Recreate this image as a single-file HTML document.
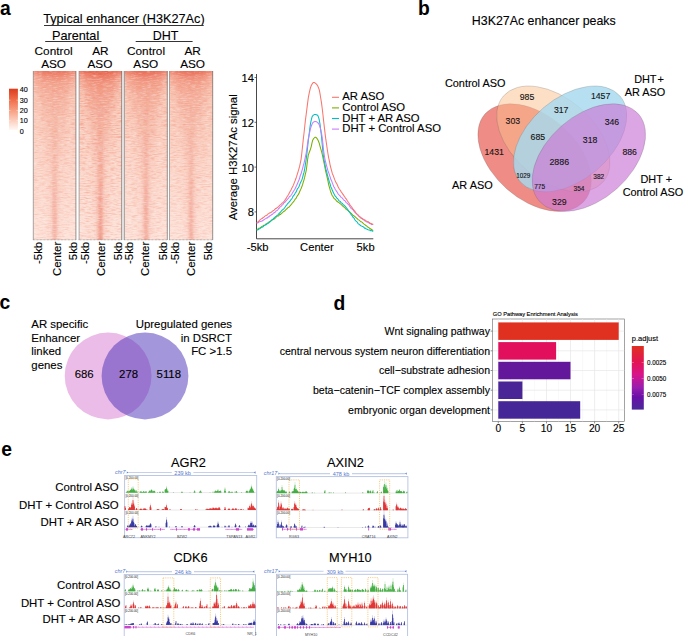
<!DOCTYPE html>
<html><head><meta charset="utf-8"><style>
html,body{margin:0;padding:0;background:#fff;}
svg{display:block;font-family:"Liberation Sans", sans-serif;}
</style></head><body>
<svg width="685" height="636" viewBox="0 0 685 636" font-family='"Liberation Sans", sans-serif'>
<style>text.k{stroke:#000;stroke-width:0.12px;}</style>
<rect width="685" height="636" fill="#fff"/>
<text x="0.00" y="15.00" font-size="19.3" text-anchor="start" font-weight="bold" fill="#000" >a</text>
<text class="k" x="123.90" y="23.40" font-size="12.7" text-anchor="middle" font-weight="normal" fill="#000" >Typical enhancer (H3K27Ac)</text>
<line x1="44" y1="25.5" x2="203.7" y2="25.5" stroke="#333" stroke-width="1"/>
<text class="k" x="75.60" y="40.00" font-size="12.7" text-anchor="middle" font-weight="normal" fill="#000" >Parental</text>
<line x1="45.2" y1="41.5" x2="101.5" y2="41.5" stroke="#333" stroke-width="1"/>
<text class="k" x="165.60" y="40.00" font-size="12.5" text-anchor="middle" font-weight="normal" fill="#000" >DHT</text>
<line x1="135.7" y1="41.5" x2="192.6" y2="41.5" stroke="#333" stroke-width="1"/>
<text class="k" x="53.60" y="54.50" font-size="11.8" text-anchor="middle" font-weight="normal" fill="#000" >Control</text>
<text class="k" x="53.60" y="68.30" font-size="11.8" text-anchor="middle" font-weight="normal" fill="#000" >ASO</text>
<text class="k" x="100.40" y="54.50" font-size="11.8" text-anchor="middle" font-weight="normal" fill="#000" >AR</text>
<text class="k" x="99.90" y="68.30" font-size="11.8" text-anchor="middle" font-weight="normal" fill="#000" >ASO</text>
<text class="k" x="146.00" y="54.50" font-size="11.8" text-anchor="middle" font-weight="normal" fill="#000" >Control</text>
<text class="k" x="145.80" y="68.30" font-size="11.8" text-anchor="middle" font-weight="normal" fill="#000" >ASO</text>
<text class="k" x="192.60" y="54.50" font-size="11.8" text-anchor="middle" font-weight="normal" fill="#000" >AR</text>
<text class="k" x="192.60" y="68.30" font-size="11.8" text-anchor="middle" font-weight="normal" fill="#000" >ASO</text>
<defs>
<linearGradient id="hmv" x1="0" y1="0" x2="0" y2="1">
<stop offset="0" stop-color="#f6b29e"/><stop offset="0.04" stop-color="#f8c0ad"/><stop offset="0.15" stop-color="#f9c9b8"/><stop offset="0.5" stop-color="#fbd5c8"/><stop offset="1" stop-color="#fde3da"/></linearGradient>
<linearGradient id="hmtop" x1="0" y1="0" x2="0" y2="1">
<stop offset="0" stop-color="#e23c26" stop-opacity="0.42"/><stop offset="0.25" stop-color="#e64a32" stop-opacity="0.14"/><stop offset="1" stop-color="#e8503a" stop-opacity="0"/></linearGradient>
<linearGradient id="vfade" x1="0" y1="0" x2="0" y2="1">
<stop offset="0" stop-color="#e4543a" stop-opacity="0.5"/><stop offset="0.3" stop-color="#e4543a" stop-opacity="0.22"/><stop offset="0.6" stop-color="#e4543a" stop-opacity="0.14"/><stop offset="1" stop-color="#e4543a" stop-opacity="0.2"/></linearGradient>
<linearGradient id="sfade" x1="0" y1="0" x2="0" y2="1">
<stop offset="0" stop-color="#e4543a" stop-opacity="0"/><stop offset="0.35" stop-color="#e4543a" stop-opacity="0.1"/><stop offset="1" stop-color="#e4543a" stop-opacity="0.6"/></linearGradient>
<linearGradient id="cbar" x1="0" y1="0" x2="0" y2="1">
<stop offset="0" stop-color="#dc3b1c"/><stop offset="0.25" stop-color="#ef6a46"/><stop offset="0.5" stop-color="#f79a7c"/><stop offset="0.75" stop-color="#fccab8"/><stop offset="1" stop-color="#fff8f5"/></linearGradient>
<linearGradient id="mgr" x1="0" y1="0" x2="0" y2="1"><stop offset="0" stop-color="#fff"/><stop offset="0.4" stop-color="#ddd"/><stop offset="1" stop-color="#999"/></linearGradient>
<mask id="nmask" maskUnits="userSpaceOnUse" x="0" y="0" width="50" height="169"><rect x="0" y="0" width="50" height="169" fill="url(#mgr)"/></mask>
<filter id="blur3" x="-50%" y="-10%" width="200%" height="120%"><feGaussianBlur stdDeviation="3.5 3"/></filter>
<filter id="blur1" x="-50%" y="-10%" width="200%" height="120%"><feGaussianBlur stdDeviation="1.4 2"/></filter>
<filter id="nz" x="0" y="0" width="100%" height="100%" filterUnits="objectBoundingBox">
<feTurbulence type="fractalNoise" baseFrequency="0.16 0.9" numOctaves="2" seed="4" result="t"/>
<feColorMatrix in="t" type="matrix" values="0 0 0 0 0.89  0 0 0 0 0.26  0 0 0 0 0.17  2.4 0 0 0 -1.05"/>
</filter>
<filter id="nzw" x="0" y="0" width="100%" height="100%" filterUnits="objectBoundingBox">
<feTurbulence type="fractalNoise" baseFrequency="0.2 0.95" numOctaves="2" seed="11" result="t"/>
<feColorMatrix in="t" type="matrix" values="0 0 0 0 1  0 0 0 0 1  0 0 0 0 1  2.4 0 0 0 -1.15"/>
</filter>
</defs>
<svg x="33" y="71" width="43.2" height="169" overflow="hidden">
<rect x="0" y="0" width="43.2" height="169" fill="url(#hmv)"/>
<path d="M2.6000000000000014,-6 L40.6,-6 L33.6,40 L27.6,90 L25.6,175 L17.6,175 L15.600000000000001,90 L9.600000000000001,40 Z" fill="url(#vfade)" opacity="0.53" filter="url(#blur3)"/>
<path d="M19.1,-6 L24.1,-6 L23.200000000000003,175 L20.0,175 Z" fill="url(#sfade)" opacity="0.59" filter="url(#blur1)"/>
<rect x="0" y="0" width="43.2" height="22" fill="url(#hmtop)" opacity="0.72"/>
<ellipse cx="21.6" cy="2" rx="14" ry="6" fill="#e03a22" opacity="0.17" filter="url(#blur3)"/>
<g mask="url(#nmask)"><g transform="translate(0,0)"><rect x="0" y="0" width="43.2" height="169" filter="url(#nz)" opacity="0.42"/></g></g>
<g transform="translate(0,0)"><rect x="0" y="0" width="43.2" height="169" filter="url(#nzw)" opacity="0.35"/></g>
</svg>
<line x1="33.3" y1="71" x2="33.3" y2="240" stroke="#8a8a8a" stroke-width="0.7"/>
<line x1="75.9" y1="71" x2="75.9" y2="240" stroke="#6a6a6a" stroke-width="0.7"/>
<line x1="33" y1="239.8" x2="76.2" y2="239.8" stroke="#888" stroke-width="0.8" stroke-dasharray="0.7,0.7"/>
<svg x="78.8" y="71" width="43.2" height="169" overflow="hidden">
<rect x="0" y="0" width="43.2" height="169" fill="url(#hmv)"/>
<path d="M2.6000000000000014,-6 L40.6,-6 L33.6,40 L27.6,90 L25.6,175 L17.6,175 L15.600000000000001,90 L9.600000000000001,40 Z" fill="url(#vfade)" opacity="0.81" filter="url(#blur3)"/>
<path d="M19.1,-6 L24.1,-6 L23.200000000000003,175 L20.0,175 Z" fill="url(#sfade)" opacity="0.91" filter="url(#blur1)"/>
<rect x="0" y="0" width="43.2" height="22" fill="url(#hmtop)" opacity="1.00"/>
<ellipse cx="21.6" cy="2" rx="14" ry="6" fill="#e03a22" opacity="0.26" filter="url(#blur3)"/>
<g mask="url(#nmask)"><g transform="translate(-37,0)"><rect x="37" y="0" width="43.2" height="169" filter="url(#nz)" opacity="0.65"/></g></g>
<g transform="translate(-41,0)"><rect x="41" y="0" width="43.2" height="169" filter="url(#nzw)" opacity="0.35"/></g>
</svg>
<line x1="79.1" y1="71" x2="79.1" y2="240" stroke="#8a8a8a" stroke-width="0.7"/>
<line x1="121.7" y1="71" x2="121.7" y2="240" stroke="#6a6a6a" stroke-width="0.7"/>
<line x1="78.8" y1="239.8" x2="122" y2="239.8" stroke="#888" stroke-width="0.8" stroke-dasharray="0.7,0.7"/>
<svg x="124.2" y="71" width="43.4" height="169" overflow="hidden">
<rect x="0" y="0" width="43.4" height="169" fill="url(#hmv)"/>
<path d="M2.6999999999999957,-6 L40.699999999999996,-6 L33.699999999999996,40 L27.699999999999996,90 L25.699999999999996,175 L17.699999999999996,175 L15.699999999999996,90 L9.699999999999996,40 Z" fill="url(#vfade)" opacity="0.62" filter="url(#blur3)"/>
<path d="M19.199999999999996,-6 L24.199999999999996,-6 L23.299999999999997,175 L20.099999999999994,175 Z" fill="url(#sfade)" opacity="0.70" filter="url(#blur1)"/>
<rect x="0" y="0" width="43.4" height="22" fill="url(#hmtop)" opacity="0.85"/>
<ellipse cx="21.699999999999996" cy="2" rx="14" ry="6" fill="#e03a22" opacity="0.20" filter="url(#blur3)"/>
<g mask="url(#nmask)"><g transform="translate(-74,0)"><rect x="74" y="0" width="43.4" height="169" filter="url(#nz)" opacity="0.50"/></g></g>
<g transform="translate(-82,0)"><rect x="82" y="0" width="43.4" height="169" filter="url(#nzw)" opacity="0.35"/></g>
</svg>
<line x1="124.5" y1="71" x2="124.5" y2="240" stroke="#8a8a8a" stroke-width="0.7"/>
<line x1="167.3" y1="71" x2="167.3" y2="240" stroke="#6a6a6a" stroke-width="0.7"/>
<line x1="124.2" y1="239.8" x2="167.6" y2="239.8" stroke="#888" stroke-width="0.8" stroke-dasharray="0.7,0.7"/>
<svg x="169.2" y="71" width="43.8" height="169" overflow="hidden">
<rect x="0" y="0" width="43.8" height="169" fill="url(#hmv)"/>
<path d="M2.9000000000000057,-6 L40.900000000000006,-6 L33.900000000000006,40 L27.900000000000006,90 L25.900000000000006,175 L17.900000000000006,175 L15.900000000000006,90 L9.900000000000006,40 Z" fill="url(#vfade)" opacity="0.56" filter="url(#blur3)"/>
<path d="M19.400000000000006,-6 L24.400000000000006,-6 L23.500000000000007,175 L20.300000000000004,175 Z" fill="url(#sfade)" opacity="0.63" filter="url(#blur1)"/>
<rect x="0" y="0" width="43.8" height="22" fill="url(#hmtop)" opacity="0.77"/>
<ellipse cx="21.900000000000006" cy="2" rx="14" ry="6" fill="#e03a22" opacity="0.18" filter="url(#blur3)"/>
<g mask="url(#nmask)"><g transform="translate(-111,0)"><rect x="111" y="0" width="43.8" height="169" filter="url(#nz)" opacity="0.45"/></g></g>
<g transform="translate(-123,0)"><rect x="123" y="0" width="43.8" height="169" filter="url(#nzw)" opacity="0.35"/></g>
</svg>
<line x1="169.5" y1="71" x2="169.5" y2="240" stroke="#8a8a8a" stroke-width="0.7"/>
<line x1="212.7" y1="71" x2="212.7" y2="240" stroke="#6a6a6a" stroke-width="0.7"/>
<line x1="169.2" y1="239.8" x2="213" y2="239.8" stroke="#888" stroke-width="0.8" stroke-dasharray="0.7,0.7"/>
<rect x="122.4" y="71" width="1.4" height="169" fill="#d8d8d8"/>
<rect x="9" y="88.7" width="8.9" height="41.3" fill="url(#cbar)"/>
<text class="k" x="19.70" y="92.40" font-size="7.2" text-anchor="start" font-weight="normal" fill="#000" >40</text>
<text class="k" x="19.70" y="102.68" font-size="7.2" text-anchor="start" font-weight="normal" fill="#000" >30</text>
<line x1="9" y1="100.2" x2="10.5" y2="100.2" stroke="#fff" stroke-width="0.4"/><line x1="16.4" y1="100.2" x2="17.9" y2="100.2" stroke="#fff" stroke-width="0.4"/>
<text class="k" x="19.70" y="112.96" font-size="7.2" text-anchor="start" font-weight="normal" fill="#000" >20</text>
<line x1="9" y1="110.5" x2="10.5" y2="110.5" stroke="#fff" stroke-width="0.4"/><line x1="16.4" y1="110.5" x2="17.9" y2="110.5" stroke="#fff" stroke-width="0.4"/>
<text class="k" x="19.70" y="123.24" font-size="7.2" text-anchor="start" font-weight="normal" fill="#000" >10</text>
<line x1="9" y1="120.7" x2="10.5" y2="120.7" stroke="#fff" stroke-width="0.4"/><line x1="16.4" y1="120.7" x2="17.9" y2="120.7" stroke="#fff" stroke-width="0.4"/>
<text class="k" x="19.70" y="133.52" font-size="7.2" text-anchor="start" font-weight="normal" fill="#000" >0</text>
<text class="k" transform="translate(41.7,241.8) rotate(-90)" font-size="11.4" text-anchor="end">-5kb</text>
<text class="k" transform="translate(61.2,241.8) rotate(-90)" font-size="11.4" text-anchor="end">Center</text>
<text class="k" transform="translate(77.3,241.8) rotate(-90)" font-size="11.4" text-anchor="end">5kb</text>
<text class="k" transform="translate(88.7,241.8) rotate(-90)" font-size="11.4" text-anchor="end">-5kb</text>
<text class="k" transform="translate(104.8,241.8) rotate(-90)" font-size="11.4" text-anchor="end">Center</text>
<text class="k" transform="translate(121.6,241.8) rotate(-90)" font-size="11.4" text-anchor="end">5kb</text>
<text class="k" transform="translate(133.4,241.8) rotate(-90)" font-size="11.4" text-anchor="end">-5kb</text>
<text class="k" transform="translate(149.2,241.8) rotate(-90)" font-size="11.4" text-anchor="end">Center</text>
<text class="k" transform="translate(167.0,241.8) rotate(-90)" font-size="11.4" text-anchor="end">5kb</text>
<text class="k" transform="translate(178.7,241.8) rotate(-90)" font-size="11.4" text-anchor="end">-5kb</text>
<text class="k" transform="translate(194.5,241.8) rotate(-90)" font-size="11.4" text-anchor="end">Center</text>
<text class="k" transform="translate(212.3,241.8) rotate(-90)" font-size="11.4" text-anchor="end">5kb</text>
<line x1="256.5" y1="74" x2="256.5" y2="238.8" stroke="#333" stroke-width="0.9"/>
<line x1="256.5" y1="238.8" x2="373.3" y2="238.8" stroke="#333" stroke-width="0.9"/>
<line x1="254.5" y1="77.5" x2="256.5" y2="77.5" stroke="#333" stroke-width="0.7"/>
<text class="k" x="253.90" y="82.00" font-size="11.2" text-anchor="end" font-weight="normal" fill="#000" >14</text>
<line x1="254.5" y1="122.3" x2="256.5" y2="122.3" stroke="#333" stroke-width="0.7"/>
<text class="k" x="253.90" y="126.80" font-size="11.2" text-anchor="end" font-weight="normal" fill="#000" >12</text>
<line x1="254.5" y1="167.1" x2="256.5" y2="167.1" stroke="#333" stroke-width="0.7"/>
<text class="k" x="253.90" y="171.60" font-size="11.2" text-anchor="end" font-weight="normal" fill="#000" >10</text>
<line x1="254.5" y1="211.9" x2="256.5" y2="211.9" stroke="#333" stroke-width="0.7"/>
<text class="k" x="253.90" y="216.40" font-size="11.2" text-anchor="end" font-weight="normal" fill="#000" >8</text>
<text class="k" x="257.70" y="251.40" font-size="11.2" text-anchor="middle" font-weight="normal" fill="#000" >-5kb</text>
<text class="k" x="316.90" y="251.40" font-size="11.2" text-anchor="middle" font-weight="normal" fill="#000" >Center</text>
<text class="k" x="365.60" y="251.40" font-size="11.2" text-anchor="middle" font-weight="normal" fill="#000" >5kb</text>
<text class="k" transform="translate(236.6,157.3) rotate(-90)" font-size="11.35" text-anchor="middle">Average H3K27Ac signal</text>
<polyline points="256.6,229.6 257.3,229.2 258.1,228.9 258.8,228.2 259.5,228.2 260.2,227.8 261.0,227.3 261.7,226.5 262.4,226.3 263.2,225.8 263.9,225.3 264.6,225.3 265.3,224.9 266.1,223.8 266.8,223.9 267.5,223.2 268.3,222.6 269.0,222.0 269.7,221.8 270.4,221.2 271.2,220.8 271.9,220.3 272.6,219.5 273.4,219.4 274.1,219.0 274.8,218.5 275.5,217.8 276.3,216.9 277.0,216.3 277.7,215.9 278.5,216.0 279.2,215.0 279.9,214.5 280.6,214.4 281.4,213.4 282.1,213.0 282.8,212.3 283.6,211.5 284.3,211.3 285.0,210.8 285.8,209.7 286.5,209.1 287.2,208.5 287.9,207.6 288.7,207.2 289.4,206.7 290.1,205.8 290.9,204.9 291.6,204.3 292.3,202.9 293.0,202.3 293.8,201.3 294.5,200.5 295.2,199.1 296.0,198.5 296.7,196.9 297.4,195.7 298.1,194.9 298.9,193.6 299.6,191.8 300.3,190.3 301.1,188.6 301.8,186.8 302.5,184.9 303.2,182.4 304.0,179.8 304.7,177.2 305.4,173.9 306.2,170.7 306.9,165.5 307.6,159.6 308.3,155.2 309.1,152.8 309.8,151.0 310.5,149.1 311.3,146.3 312.0,142.8 312.7,140.2 313.4,138.9 314.2,138.0 314.9,137.3 315.6,137.2 316.4,137.7 317.1,138.6 317.8,139.7 318.5,141.2 319.3,143.4 320.0,146.1 320.7,148.7 321.5,151.3 322.2,154.1 322.9,157.3 323.6,160.9 324.4,164.6 325.1,168.5 325.8,171.8 326.6,174.8 327.3,178.1 328.0,181.1 328.7,184.8 329.5,187.5 330.2,190.2 330.9,192.3 331.7,194.4 332.4,195.8 333.1,196.8 333.8,198.1 334.6,198.9 335.3,199.4 336.0,200.3 336.8,201.3 337.5,201.6 338.2,202.3 338.9,202.5 339.7,203.4 340.4,203.9 341.1,204.4 341.9,205.1 342.6,205.9 343.3,206.5 344.1,207.1 344.8,207.6 345.5,208.5 346.2,209.5 347.0,209.8 347.7,210.2 348.4,210.8 349.2,211.8 349.9,212.1 350.6,212.8 351.3,213.4 352.1,214.3 352.8,215.3 353.5,215.5 354.3,216.1 355.0,216.7 355.7,217.4 356.4,217.9 357.2,218.7 357.9,219.4 358.6,219.9 359.4,220.3 360.1,221.0 360.8,221.8 361.5,221.8 362.3,222.4 363.0,223.2 363.7,223.9 364.5,224.4 365.2,224.9 365.9,225.6 366.6,225.9 367.4,226.7 368.1,227.3 368.8,227.5 369.6,228.3 370.3,228.7 371.0,229.4 371.7,229.3 372.5,230.4 373.2,230.8" fill="none" stroke="#7CAE00" stroke-width="1.05" stroke-linejoin="round"/>
<polyline points="256.6,230.3 257.3,230.0 258.1,229.8 258.8,229.1 259.5,228.7 260.2,228.4 261.0,227.7 261.7,227.5 262.4,227.1 263.2,226.7 263.9,225.8 264.6,225.4 265.3,224.8 266.1,224.8 266.8,224.2 267.5,223.2 268.3,223.3 269.0,222.7 269.7,222.0 270.4,221.4 271.2,220.5 271.9,219.8 272.6,219.5 273.4,218.6 274.1,218.0 274.8,217.4 275.5,216.6 276.3,216.2 277.0,215.5 277.7,215.1 278.5,214.1 279.2,213.5 279.9,212.6 280.6,212.0 281.4,211.0 282.1,210.1 282.8,209.8 283.6,209.0 284.3,208.1 285.0,207.2 285.8,206.0 286.5,205.1 287.2,204.3 287.9,203.3 288.7,202.8 289.4,201.6 290.1,201.0 290.9,199.7 291.6,199.1 292.3,197.9 293.0,196.3 293.8,195.3 294.5,194.6 295.2,193.1 296.0,192.2 296.7,190.5 297.4,188.9 298.1,188.0 298.9,186.7 299.6,184.9 300.3,183.1 301.1,181.6 301.8,180.1 302.5,177.8 303.2,175.0 304.0,172.4 304.7,168.8 305.4,164.4 306.2,159.1 306.9,153.6 307.6,147.3 308.3,140.6 309.1,134.4 309.8,128.6 310.5,123.5 311.3,119.9 312.0,117.1 312.7,115.8 313.4,115.1 314.2,114.6 314.9,114.4 315.6,114.4 316.4,114.7 317.1,115.0 317.8,115.5 318.5,117.1 319.3,120.0 320.0,124.0 320.7,129.9 321.5,136.5 322.2,144.2 322.9,151.9 323.6,157.3 324.4,161.6 325.1,165.0 325.8,168.8 326.6,171.3 327.3,174.4 328.0,177.1 328.7,179.5 329.5,182.4 330.2,184.3 330.9,186.9 331.7,188.5 332.4,190.6 333.1,192.0 333.8,193.4 334.6,195.1 335.3,196.1 336.0,196.8 336.8,198.1 337.5,198.5 338.2,199.5 338.9,200.6 339.7,201.2 340.4,201.5 341.1,202.9 341.9,203.0 342.6,203.7 343.3,204.8 344.1,205.2 344.8,206.0 345.5,206.6 346.2,207.5 347.0,208.7 347.7,209.4 348.4,210.7 349.2,211.5 349.9,212.6 350.6,214.0 351.3,214.7 352.1,215.8 352.8,217.0 353.5,217.6 354.3,218.5 355.0,220.0 355.7,220.9 356.4,221.4 357.2,222.1 357.9,223.3 358.6,224.1 359.4,224.2 360.1,225.3 360.8,225.8 361.5,226.0 362.3,226.4 363.0,226.6 363.7,227.1 364.5,228.1 365.2,228.1 365.9,228.8 366.6,228.9 367.4,229.6 368.1,229.8 368.8,229.9 369.6,230.1 370.3,230.7 371.0,230.5 371.7,230.8 372.5,231.1 373.2,231.4" fill="none" stroke="#00BFC4" stroke-width="1.05" stroke-linejoin="round"/>
<polyline points="256.6,223.2 257.3,223.0 258.1,222.8 258.8,222.1 259.5,221.7 260.2,221.6 261.0,221.2 261.7,221.2 262.4,220.7 263.2,220.3 263.9,219.8 264.6,219.5 265.3,218.7 266.1,218.5 266.8,217.8 267.5,217.9 268.3,216.8 269.0,216.9 269.7,215.8 270.4,215.8 271.2,215.0 271.9,214.5 272.6,214.3 273.4,213.1 274.1,212.6 274.8,212.6 275.5,211.7 276.3,210.7 277.0,210.7 277.7,210.0 278.5,208.7 279.2,208.2 279.9,207.2 280.6,206.6 281.4,206.1 282.1,205.0 282.8,204.6 283.6,203.3 284.3,202.6 285.0,202.3 285.8,201.2 286.5,200.4 287.2,199.7 287.9,198.8 288.7,197.8 289.4,196.7 290.1,196.3 290.9,195.5 291.6,194.5 292.3,193.3 293.0,192.0 293.8,190.8 294.5,189.8 295.2,188.6 296.0,186.8 296.7,185.3 297.4,183.7 298.1,182.0 298.9,180.3 299.6,178.0 300.3,175.5 301.1,173.8 301.8,171.2 302.5,168.8 303.2,165.9 304.0,163.3 304.7,160.2 305.4,156.8 306.2,153.1 306.9,148.4 307.6,143.4 308.3,138.9 309.1,135.1 309.8,131.6 310.5,128.6 311.3,126.2 312.0,124.3 312.7,122.8 313.4,122.1 314.2,121.7 314.9,121.4 315.6,121.5 316.4,121.7 317.1,122.1 317.8,122.6 318.5,123.6 319.3,125.1 320.0,127.0 320.7,129.5 321.5,133.1 322.2,137.3 322.9,143.2 323.6,150.6 324.4,156.0 325.1,159.8 325.8,163.0 326.6,165.8 327.3,168.3 328.0,170.9 328.7,172.7 329.5,175.2 330.2,177.1 330.9,179.6 331.7,181.1 332.4,183.1 333.1,184.9 333.8,186.8 334.6,187.9 335.3,189.5 336.0,190.5 336.8,191.6 337.5,192.8 338.2,194.1 338.9,194.7 339.7,195.8 340.4,196.1 341.1,197.4 341.9,197.8 342.6,198.4 343.3,199.5 344.1,200.4 344.8,200.5 345.5,201.5 346.2,202.6 347.0,203.2 347.7,203.9 348.4,204.6 349.2,205.4 349.9,206.7 350.6,207.7 351.3,208.6 352.1,209.0 352.8,209.4 353.5,210.4 354.3,211.6 355.0,212.4 355.7,213.1 356.4,213.6 357.2,214.5 357.9,215.2 358.6,216.0 359.4,216.4 360.1,217.5 360.8,218.0 361.5,218.0 362.3,218.7 363.0,219.6 363.7,219.7 364.5,220.7 365.2,220.8 365.9,221.4 366.6,221.9 367.4,222.0 368.1,222.4 368.8,222.8 369.6,223.5 370.3,223.8 371.0,223.8 371.7,224.6 372.5,224.5 373.2,224.6" fill="none" stroke="#C77CFF" stroke-width="1.05" stroke-linejoin="round"/>
<polyline points="256.6,222.6 257.3,222.3 258.1,221.8 258.8,221.3 259.5,220.3 260.2,219.7 261.0,219.1 261.7,218.6 262.4,218.4 263.2,217.4 263.9,217.2 264.6,216.4 265.3,215.9 266.1,215.5 266.8,215.3 267.5,214.6 268.3,213.7 269.0,213.4 269.7,212.8 270.4,212.8 271.2,212.2 271.9,211.7 272.6,211.1 273.4,210.5 274.1,210.1 274.8,209.5 275.5,208.6 276.3,208.5 277.0,207.7 277.7,207.3 278.5,206.6 279.2,205.9 279.9,205.2 280.6,204.6 281.4,203.8 282.1,203.0 282.8,202.7 283.6,201.9 284.3,201.1 285.0,200.0 285.8,198.9 286.5,197.9 287.2,196.4 287.9,195.6 288.7,194.2 289.4,192.7 290.1,191.4 290.9,190.2 291.6,188.6 292.3,187.3 293.0,185.9 293.8,184.1 294.5,182.1 295.2,180.5 296.0,178.3 296.7,176.2 297.4,173.9 298.1,171.6 298.9,168.9 299.6,166.4 300.3,163.1 301.1,159.1 301.8,153.3 302.5,146.7 303.2,140.1 304.0,133.3 304.7,126.7 305.4,120.4 306.2,114.3 306.9,108.6 307.6,103.1 308.3,97.9 309.1,93.6 309.8,90.3 310.5,87.6 311.3,85.5 312.0,84.2 312.7,83.1 313.4,82.5 314.2,82.5 314.9,82.8 315.6,83.4 316.4,84.1 317.1,84.9 317.8,86.1 318.5,87.8 319.3,89.9 320.0,93.6 320.7,98.0 321.5,102.9 322.2,108.3 322.9,114.3 323.6,120.9 324.4,127.6 325.1,133.6 325.8,139.2 326.6,144.5 327.3,149.5 328.0,154.0 328.7,157.9 329.5,161.7 330.2,165.5 330.9,168.2 331.7,171.2 332.4,173.7 333.1,175.2 333.8,177.2 334.6,179.4 335.3,181.1 336.0,182.6 336.8,183.7 337.5,185.3 338.2,187.0 338.9,188.3 339.7,189.5 340.4,190.3 341.1,191.9 341.9,192.7 342.6,194.0 343.3,194.6 344.1,196.2 344.8,197.0 345.5,198.1 346.2,198.8 347.0,200.2 347.7,201.3 348.4,202.5 349.2,203.4 349.9,204.8 350.6,205.7 351.3,206.7 352.1,207.7 352.8,209.0 353.5,209.6 354.3,210.6 355.0,211.4 355.7,212.7 356.4,213.5 357.2,214.4 357.9,214.8 358.6,215.8 359.4,216.5 360.1,216.9 360.8,217.4 361.5,218.6 362.3,218.4 363.0,219.0 363.7,219.4 364.5,220.0 365.2,220.1 365.9,220.7 366.6,221.1 367.4,221.8 368.1,221.6 368.8,222.2 369.6,222.7 370.3,223.4 371.0,223.4 371.7,223.7 372.5,224.2 373.2,224.3" fill="none" stroke="#F8766D" stroke-width="1.05" stroke-linejoin="round"/>
<line x1="332" y1="97.3" x2="339" y2="97.3" stroke="#F8766D" stroke-width="1.1"/>
<text class="k" x="342.30" y="100.30" font-size="11.3" text-anchor="start" font-weight="normal" fill="#000" >AR ASO</text>
<line x1="332" y1="107.9" x2="339" y2="107.9" stroke="#7CAE00" stroke-width="1.1"/>
<text class="k" x="342.30" y="110.90" font-size="11.3" text-anchor="start" font-weight="normal" fill="#000" >Control ASO</text>
<line x1="332" y1="118.5" x2="339" y2="118.5" stroke="#00BFC4" stroke-width="1.1"/>
<text class="k" x="342.30" y="121.50" font-size="11.3" text-anchor="start" font-weight="normal" fill="#000" >DHT + AR ASO</text>
<line x1="332" y1="129.1" x2="339" y2="129.1" stroke="#C77CFF" stroke-width="1.1"/>
<text class="k" x="342.30" y="132.10" font-size="11.3" text-anchor="start" font-weight="normal" fill="#000" >DHT + Control ASO</text>
<text x="418.00" y="15.10" font-size="19.3" text-anchor="start" font-weight="bold" fill="#000" >b</text>
<text class="k" x="471.80" y="25.10" font-size="12.4" text-anchor="start" font-weight="normal" fill="#000" >H3K27Ac enhancer peaks</text>
<ellipse cx="534.56" cy="157.6" rx="66.04" ry="41.85" transform="rotate(41.47 534.56 157.6)" fill="#e4392c" fill-opacity="0.58" stroke="#555" stroke-opacity="0.35" stroke-width="0.6"/>
<ellipse cx="553.34" cy="138.9" rx="65.8" ry="40.97" transform="rotate(40.53 553.34 138.9)" fill="#fbc08e" fill-opacity="0.5" stroke="#555" stroke-opacity="0.35" stroke-width="0.6"/>
<ellipse cx="570.1" cy="138.9" rx="65.8" ry="40.97" transform="rotate(-40.53 570.1 138.9)" fill="#a6d9ee" fill-opacity="0.82" stroke="#555" stroke-opacity="0.35" stroke-width="0.6"/>
<ellipse cx="588.88" cy="157.6" rx="66.04" ry="41.85" transform="rotate(-41.47 588.88 157.6)" fill="#cb7bd6" fill-opacity="0.68" stroke="#555" stroke-opacity="0.35" stroke-width="0.6"/>
<text class="k" x="527.00" y="100.23" font-size="8.7" text-anchor="middle" font-weight="normal" fill="#1a1a1a" >985</text>
<text class="k" x="600.60" y="99.43" font-size="8.7" text-anchor="middle" font-weight="normal" fill="#1a1a1a" >1457</text>
<text class="k" x="561.20" y="113.33" font-size="8.7" text-anchor="middle" font-weight="normal" fill="#1a1a1a" >317</text>
<text class="k" x="512.80" y="123.83" font-size="8.7" text-anchor="middle" font-weight="normal" fill="#1a1a1a" >303</text>
<text class="k" x="611.90" y="125.13" font-size="8.7" text-anchor="middle" font-weight="normal" fill="#1a1a1a" >346</text>
<text class="k" x="537.80" y="140.43" font-size="8.7" text-anchor="middle" font-weight="normal" fill="#1a1a1a" >685</text>
<text class="k" x="590.10" y="143.03" font-size="8.7" text-anchor="middle" font-weight="normal" fill="#1a1a1a" >318</text>
<text class="k" x="494.20" y="154.63" font-size="8.7" text-anchor="middle" font-weight="normal" fill="#1a1a1a" >1431</text>
<text class="k" x="629.70" y="154.63" font-size="8.7" text-anchor="middle" font-weight="normal" fill="#1a1a1a" >886</text>
<text class="k" x="559.30" y="164.70" font-size="8.9" text-anchor="middle" font-weight="normal" fill="#1a1a1a" >2886</text>
<text class="k" x="523.30" y="178.17" font-size="6.3" text-anchor="middle" font-weight="normal" fill="#1a1a1a" >1029</text>
<text class="k" x="598.70" y="179.04" font-size="6.5" text-anchor="middle" font-weight="normal" fill="#1a1a1a" >382</text>
<text class="k" x="539.60" y="189.24" font-size="6.5" text-anchor="middle" font-weight="normal" fill="#1a1a1a" >775</text>
<text class="k" x="579.00" y="190.54" font-size="6.5" text-anchor="middle" font-weight="normal" fill="#1a1a1a" >354</text>
<text class="k" x="559.30" y="204.53" font-size="8.7" text-anchor="middle" font-weight="normal" fill="#1a1a1a" >329</text>
<text class="k" x="475.20" y="86.60" font-size="10.9" text-anchor="middle" font-weight="normal" fill="#000" >Control ASO</text>
<text class="k" x="663.80" y="82.80" font-size="10.9" text-anchor="end" font-weight="normal" fill="#000" >DHT<tspan dx="0.9">+</tspan></text>
<text class="k" x="665.30" y="96.20" font-size="10.9" text-anchor="end" font-weight="normal" fill="#000" >AR ASO</text>
<text class="k" x="472.40" y="188.90" font-size="10.9" text-anchor="middle" font-weight="normal" fill="#000" >AR ASO</text>
<text class="k" x="672.00" y="182.60" font-size="10.9" text-anchor="end" font-weight="normal" fill="#000" >DHT +</text>
<text class="k" x="683.20" y="196.40" font-size="10.9" text-anchor="end" font-weight="normal" fill="#000" >Control ASO</text>
<text x="-0.60" y="308.60" font-size="19.3" text-anchor="start" font-weight="bold" fill="#000" >c</text>
<circle cx="108.1" cy="376" r="43.4" fill="#ebbce8"/>
<circle cx="145" cy="376" r="43.4" fill="#4a31b6" fill-opacity="0.51"/>
<text class="k" x="31.30" y="328.20" font-size="11.4" text-anchor="start" font-weight="normal" fill="#000" >AR specific</text>
<text class="k" x="31.30" y="341.65" font-size="11.4" text-anchor="start" font-weight="normal" fill="#000" >Enhancer</text>
<text class="k" x="31.30" y="355.10" font-size="11.4" text-anchor="start" font-weight="normal" fill="#000" >linked</text>
<text class="k" x="31.30" y="368.55" font-size="11.4" text-anchor="start" font-weight="normal" fill="#000" >genes</text>
<text class="k" x="232.00" y="328.20" font-size="11.4" text-anchor="end" font-weight="normal" fill="#000" >Upregulated genes</text>
<text class="k" x="232.00" y="341.65" font-size="11.4" text-anchor="end" font-weight="normal" fill="#000" >in DSRCT</text>
<text class="k" x="232.00" y="355.10" font-size="11.4" text-anchor="end" font-weight="normal" fill="#000" >FC &gt;1.5</text>
<text class="k" x="84.20" y="377.90" font-size="11.4" text-anchor="middle" font-weight="normal" fill="#000" >686</text>
<text class="k" x="128.60" y="377.90" font-size="11.4" text-anchor="middle" font-weight="normal" fill="#000" >278</text>
<text class="k" x="168.80" y="377.90" font-size="11.4" text-anchor="middle" font-weight="normal" fill="#000" >5118</text>
<text x="333.60" y="310.00" font-size="19.3" text-anchor="start" font-weight="bold" fill="#000" >d</text>
<text class="k" x="492.80" y="315.80" font-size="5.7" text-anchor="start" font-weight="normal" fill="#000" >GO Pathway Enrichment Analysis</text>
<rect x="492.6" y="319" width="131.69999999999993" height="102.39999999999998" fill="#fff" stroke="#666" stroke-width="0.6"/>
<line x1="510.3" y1="319" x2="510.3" y2="421.4" stroke="#f2f2f2" stroke-width="0.5"/>
<line x1="534.4" y1="319" x2="534.4" y2="421.4" stroke="#f2f2f2" stroke-width="0.5"/>
<line x1="558.5" y1="319" x2="558.5" y2="421.4" stroke="#f2f2f2" stroke-width="0.5"/>
<line x1="582.6" y1="319" x2="582.6" y2="421.4" stroke="#f2f2f2" stroke-width="0.5"/>
<line x1="606.7" y1="319" x2="606.7" y2="421.4" stroke="#f2f2f2" stroke-width="0.5"/>
<line x1="498.3" y1="319" x2="498.3" y2="421.4" stroke="#e6e6e6" stroke-width="0.7"/>
<line x1="522.4" y1="319" x2="522.4" y2="421.4" stroke="#e6e6e6" stroke-width="0.7"/>
<line x1="546.5" y1="319" x2="546.5" y2="421.4" stroke="#e6e6e6" stroke-width="0.7"/>
<line x1="570.5" y1="319" x2="570.5" y2="421.4" stroke="#e6e6e6" stroke-width="0.7"/>
<line x1="594.6" y1="319" x2="594.6" y2="421.4" stroke="#e6e6e6" stroke-width="0.7"/>
<line x1="618.7" y1="319" x2="618.7" y2="421.4" stroke="#e6e6e6" stroke-width="0.7"/>
<line x1="492.6" y1="331.1" x2="624.3" y2="331.1" stroke="#e6e6e6" stroke-width="0.7"/>
<line x1="492.6" y1="350.8" x2="624.3" y2="350.8" stroke="#e6e6e6" stroke-width="0.7"/>
<line x1="492.6" y1="370.5" x2="624.3" y2="370.5" stroke="#e6e6e6" stroke-width="0.7"/>
<line x1="492.6" y1="390.2" x2="624.3" y2="390.2" stroke="#e6e6e6" stroke-width="0.7"/>
<line x1="492.6" y1="409.9" x2="624.3" y2="409.9" stroke="#e6e6e6" stroke-width="0.7"/>
<rect x="498.3" y="322.4" width="120.4" height="17.5" fill="#df3020"/>
<line x1="490.6" y1="331.1" x2="492.6" y2="331.1" stroke="#444" stroke-width="0.6"/>
<text class="k" x="490.00" y="334.95" font-size="10.55" text-anchor="end" font-weight="normal" fill="#000" >Wnt signaling pathway</text>
<rect x="498.3" y="342.1" width="57.8" height="17.5" fill="#e2105c"/>
<line x1="490.6" y1="350.8" x2="492.6" y2="350.8" stroke="#444" stroke-width="0.6"/>
<text class="k" x="490.00" y="354.65" font-size="10.55" text-anchor="end" font-weight="normal" fill="#000" >central nervous system neuron differentiation</text>
<rect x="498.3" y="361.8" width="72.2" height="17.5" fill="#63189c"/>
<line x1="490.6" y1="370.5" x2="492.6" y2="370.5" stroke="#444" stroke-width="0.6"/>
<text class="k" x="490.00" y="374.35" font-size="10.55" text-anchor="end" font-weight="normal" fill="#000" >cell&#8722;substrate adhesion</text>
<rect x="498.3" y="381.5" width="24.1" height="17.5" fill="#4a2596"/>
<line x1="490.6" y1="390.2" x2="492.6" y2="390.2" stroke="#444" stroke-width="0.6"/>
<text class="k" x="490.00" y="394.05" font-size="10.55" text-anchor="end" font-weight="normal" fill="#000" >beta&#8722;catenin&#8722;TCF complex assembly</text>
<rect x="498.3" y="401.2" width="81.9" height="17.5" fill="#462797"/>
<line x1="490.6" y1="409.9" x2="492.6" y2="409.9" stroke="#444" stroke-width="0.6"/>
<text class="k" x="490.00" y="413.75" font-size="10.55" text-anchor="end" font-weight="normal" fill="#000" >embryonic organ development</text>
<line x1="498.3" y1="421.4" x2="498.3" y2="423.4" stroke="#444" stroke-width="0.6"/>
<text class="k" x="498.30" y="432.20" font-size="10.2" text-anchor="middle" font-weight="normal" fill="#000" >0</text>
<line x1="522.4" y1="421.4" x2="522.4" y2="423.4" stroke="#444" stroke-width="0.6"/>
<text class="k" x="522.38" y="432.20" font-size="10.2" text-anchor="middle" font-weight="normal" fill="#000" >5</text>
<line x1="546.5" y1="421.4" x2="546.5" y2="423.4" stroke="#444" stroke-width="0.6"/>
<text class="k" x="546.46" y="432.20" font-size="10.2" text-anchor="middle" font-weight="normal" fill="#000" >10</text>
<line x1="570.5" y1="421.4" x2="570.5" y2="423.4" stroke="#444" stroke-width="0.6"/>
<text class="k" x="570.54" y="432.20" font-size="10.2" text-anchor="middle" font-weight="normal" fill="#000" >15</text>
<line x1="594.6" y1="421.4" x2="594.6" y2="423.4" stroke="#444" stroke-width="0.6"/>
<text class="k" x="594.62" y="432.20" font-size="10.2" text-anchor="middle" font-weight="normal" fill="#000" >20</text>
<line x1="618.7" y1="421.4" x2="618.7" y2="423.4" stroke="#444" stroke-width="0.6"/>
<text class="k" x="618.70" y="432.20" font-size="10.2" text-anchor="middle" font-weight="normal" fill="#000" >25</text>
<defs><linearGradient id="pad" x1="0" y1="0" x2="0" y2="1">
<stop offset="0" stop-color="#df3020"/><stop offset="0.25" stop-color="#e21453"/><stop offset="0.45" stop-color="#d8148a"/>
<stop offset="0.65" stop-color="#9a1fae"/><stop offset="0.8" stop-color="#6a10a8"/><stop offset="1" stop-color="#4a2a98"/></linearGradient></defs>
<rect x="631.8" y="346" width="12" height="63.6" fill="url(#pad)"/>
<text class="k" x="631.80" y="341.30" font-size="7.5" text-anchor="start" font-weight="normal" fill="#000" >p.adjust</text>
<line x1="631.8" y1="362.5" x2="634" y2="362.5" stroke="#fff" stroke-width="0.4" opacity="0.7"/><line x1="641.6" y1="362.5" x2="643.8" y2="362.5" stroke="#fff" stroke-width="0.4" opacity="0.7"/>
<text class="k" x="647.00" y="364.70" font-size="6.3" text-anchor="start" font-weight="normal" fill="#000" >0.0025</text>
<line x1="631.8" y1="378.5" x2="634" y2="378.5" stroke="#fff" stroke-width="0.4" opacity="0.7"/><line x1="641.6" y1="378.5" x2="643.8" y2="378.5" stroke="#fff" stroke-width="0.4" opacity="0.7"/>
<text class="k" x="647.00" y="380.70" font-size="6.3" text-anchor="start" font-weight="normal" fill="#000" >0.0050</text>
<line x1="631.8" y1="394.8" x2="634" y2="394.8" stroke="#fff" stroke-width="0.4" opacity="0.7"/><line x1="641.6" y1="394.8" x2="643.8" y2="394.8" stroke="#fff" stroke-width="0.4" opacity="0.7"/>
<text class="k" x="647.00" y="397.00" font-size="6.3" text-anchor="start" font-weight="normal" fill="#000" >0.0075</text>
<text x="1.20" y="456.00" font-size="19.3" text-anchor="start" font-weight="bold" fill="#000" >e</text>
<text class="k" x="118.60" y="491.20" font-size="11.4" text-anchor="end" font-weight="normal" fill="#000" >Control ASO</text>
<text class="k" x="118.60" y="509.30" font-size="11.4" text-anchor="end" font-weight="normal" fill="#000" >DHT + Control ASO</text>
<text class="k" x="118.60" y="525.50" font-size="11.4" text-anchor="end" font-weight="normal" fill="#000" >DHT + AR ASO</text>
<text class="k" x="120.40" y="589.00" font-size="11.4" text-anchor="end" font-weight="normal" fill="#000" >Control ASO</text>
<text class="k" x="120.40" y="607.10" font-size="11.4" text-anchor="end" font-weight="normal" fill="#000" >DHT + Control ASO</text>
<text class="k" x="120.40" y="623.30" font-size="11.4" text-anchor="end" font-weight="normal" fill="#000" >DHT + AR ASO</text>
<text class="k" x="188.50" y="466.60" font-size="12.8" text-anchor="middle" font-weight="normal" fill="#000" >AGR2</text>
<text x="125.6" y="474.3" font-size="5.4" fill="#5577cc" text-anchor="end" font-style="italic">chr7</text>
<path d="M126.8,471.4 l1.5,1.1 l-1.5,1.1z" fill="#5577cc"/>
<line x1="128.1" y1="472.5" x2="171.8" y2="472.5" stroke="#c5d0ea" stroke-width="1.1"/>
<line x1="193.4" y1="472.5" x2="254.2" y2="472.5" stroke="#c5d0ea" stroke-width="1.1"/>
<path d="M255.5,471.3 l-1.6,1.2 l1.6,1.2z" fill="#5577cc"/>
<text x="182.6" y="474.8" font-size="5.5" fill="#5577cc" text-anchor="middle">239 kb</text>
<rect x="124.6" y="475.5" width="132.1" height="62.2" fill="#fff" stroke="#b4c2e2" stroke-width="0.9"/>
<text x="125.39999999999999" y="479.2" font-size="2.9" fill="#111">[0-200.00]</text>
<line x1="125.1" y1="492.6" x2="256.2" y2="492.6" stroke="#c8c8c8" stroke-width="0.4"/>
<path d="M126.5,492.6v-0.91M127.0,492.6v-0.69M127.5,492.6v-1.52M128.0,492.6v-2.00M128.5,492.6v-1.44M129.0,492.6v-0.77M129.5,492.6v-1.76M130.0,492.6v-1.97M130.5,492.6v-2.60M131.0,492.6v-3.19M131.5,492.6v-4.00M132.0,492.6v-1.81M132.5,492.6v-3.04M133.0,492.6v-5.00M133.5,492.6v-3.70M134.0,492.6v-2.16M134.5,492.6v-3.03M135.0,492.6v-1.55M135.5,492.6v-0.97M136.0,492.6v-2.50M136.5,492.6v-0.96M137.0,492.6v-1.22M137.5,492.6v-0.31M140.0,492.6v-0.95M140.5,492.6v-0.82M141.0,492.6v-1.50M141.5,492.6v-0.71M142.0,492.6v-0.67M142.5,492.6v-0.46M143.0,492.6v-0.71M143.5,492.6v-1.50M144.0,492.6v-0.86M144.5,492.6v-0.71M145.0,492.6v-0.78M145.5,492.6v-1.01M146.0,492.6v-1.05M146.5,492.6v-1.00M148.5,492.6v-0.80M149.0,492.6v-0.76M149.5,492.6v-2.00M150.0,492.6v-1.51M150.5,492.6v-1.24M151.0,492.6v-2.61M151.5,492.6v-3.00M152.0,492.6v-2.42M152.5,492.6v-1.16M153.0,492.6v-1.19M153.5,492.6v-1.39M154.0,492.6v-2.00M154.5,492.6v-1.60M155.0,492.6v-0.89M157.5,492.6v-0.51M159.5,492.6v-0.63M160.0,492.6v-0.95M160.5,492.6v-0.65M162.5,492.6v-0.92M163.0,492.6v-0.95M163.5,492.6v-0.62M165.0,492.6v-2.92M165.5,492.6v-3.43M166.0,492.6v-3.18M166.5,492.6v-5.00M167.0,492.6v-3.39M167.5,492.6v-1.76M168.0,492.6v-1.82M173.5,492.6v-0.44M181.5,492.6v-0.64M182.0,492.6v-1.00M182.5,492.6v-0.49M190.0,492.6v-0.35M194.0,492.6v-0.78M194.5,492.6v-2.00M195.0,492.6v-1.08M199.5,492.6v-0.77M200.0,492.6v-1.20M200.5,492.6v-2.00M201.0,492.6v-1.18M201.5,492.6v-0.47M210.0,492.6v-0.31M213.0,492.6v-0.94M214.5,492.6v-0.86M215.0,492.6v-1.14M215.5,492.6v-2.00M216.0,492.6v-1.21M216.5,492.6v-1.38M217.0,492.6v-1.50M217.5,492.6v-1.89M218.0,492.6v-3.00M218.5,492.6v-1.22M219.0,492.6v-1.07M219.5,492.6v-1.57M220.0,492.6v-1.42M220.5,492.6v-2.00M221.0,492.6v-1.12M224.5,492.6v-1.92M225.0,492.6v-4.00M225.5,492.6v-1.56M228.5,492.6v-0.78M229.0,492.6v-1.50M229.5,492.6v-1.07M230.0,492.6v-0.69M230.5,492.6v-0.35M231.5,492.6v-0.63M232.0,492.6v-1.00M232.5,492.6v-0.54M235.0,492.6v-0.96M236.0,492.6v-1.00M236.5,492.6v-1.50M237.0,492.6v-0.62M241.5,492.6v-0.52M246.0,492.6v-0.96M246.5,492.6v-1.61M247.0,492.6v-2.00M247.5,492.6v-1.27M248.0,492.6v-0.97M249.0,492.6v-1.17M249.5,492.6v-1.86M250.0,492.6v-3.00M250.5,492.6v-3.46M251.0,492.6v-4.47M251.5,492.6v-6.00M252.0,492.6v-4.65M252.5,492.6v-3.36M253.0,492.6v-3.00M253.5,492.6v-1.59M254.0,492.6v-0.55" stroke="#2aa52a" stroke-width="0.72" fill="none"/>
<path d="M131.5,488.6v-1.40M133.0,487.6v-1.75M166.5,487.6v-1.75M225.0,488.6v-1.40M251.0,488.1v-1.57M251.5,486.6v-2.10M252.0,487.9v-1.63" stroke="#2aa52a" stroke-width="0.55" fill="none" opacity="0.3"/>
<text x="125.39999999999999" y="496.6" font-size="2.9" fill="#111">[0-200.00]</text>
<line x1="125.1" y1="510.0" x2="256.2" y2="510.0" stroke="#c8c8c8" stroke-width="0.4"/>
<path d="M125.0,510.0v-3.80M125.5,510.0v-2.14M128.5,510.0v-1.32M129.0,510.0v-1.95M129.5,510.0v-3.00M130.0,510.0v-1.43M130.5,510.0v-2.42M131.0,510.0v-3.00M131.5,510.0v-5.17M132.0,510.0v-6.39M132.5,510.0v-5.08M133.0,510.0v-10.00M133.5,510.0v-6.32M134.0,510.0v-5.35M134.5,510.0v-3.59M136.0,510.0v-0.97M136.5,510.0v-2.00M137.0,510.0v-1.09M139.0,510.0v-0.49M140.0,510.0v-0.93M140.5,510.0v-1.18M141.0,510.0v-1.50M141.5,510.0v-0.75M142.0,510.0v-0.79M143.0,510.0v-0.62M143.5,510.0v-0.81M144.0,510.0v-2.00M144.5,510.0v-1.21M145.0,510.0v-1.22M145.5,510.0v-1.50M146.0,510.0v-0.94M147.0,510.0v-0.57M150.0,510.0v-3.27M150.5,510.0v-4.75M151.0,510.0v-2.49M157.0,510.0v-0.54M157.5,510.0v-0.76M158.0,510.0v-1.00M158.5,510.0v-0.54M159.0,510.0v-0.55M162.0,510.0v-0.56M162.5,510.0v-0.66M163.0,510.0v-1.00M163.5,510.0v-0.76M164.0,510.0v-0.62M165.0,510.0v-3.10M165.5,510.0v-2.96M166.0,510.0v-2.50M166.5,510.0v-4.72M167.0,510.0v-2.36M167.5,510.0v-1.89M170.0,510.0v-0.88M180.5,510.0v-0.93M181.0,510.0v-0.57M181.5,510.0v-0.94M195.5,510.0v-0.72M197.0,510.0v-0.79M206.0,510.0v-0.85M206.5,510.0v-0.59M207.0,510.0v-1.50M207.5,510.0v-1.02M208.0,510.0v-0.83M208.5,510.0v-0.86M209.0,510.0v-1.10M209.5,510.0v-0.95M210.0,510.0v-2.00M210.5,510.0v-1.49M211.0,510.0v-0.71M211.5,510.0v-1.40M212.0,510.0v-1.49M212.5,510.0v-1.31M213.0,510.0v-2.50M213.5,510.0v-2.08M214.0,510.0v-1.83M214.5,510.0v-1.37M215.0,510.0v-1.71M215.5,510.0v-1.78M216.0,510.0v-2.50M216.5,510.0v-1.83M217.0,510.0v-1.30M217.5,510.0v-1.50M218.0,510.0v-1.93M218.5,510.0v-1.64M219.0,510.0v-3.00M219.5,510.0v-2.21M220.0,510.0v-1.35M224.5,510.0v-1.17M225.0,510.0v-3.00M225.5,510.0v-1.36M228.0,510.0v-0.55M228.5,510.0v-1.18M229.0,510.0v-1.50M229.5,510.0v-1.21M230.0,510.0v-0.51M232.0,510.0v-1.02M232.5,510.0v-1.12M233.0,510.0v-2.00M233.5,510.0v-0.85M234.0,510.0v-0.80M235.0,510.0v-0.77M235.5,510.0v-1.43M236.0,510.0v-2.00M236.5,510.0v-0.75M237.0,510.0v-0.72M238.5,510.0v-0.67M240.0,510.0v-0.45M240.5,510.0v-0.38M241.0,510.0v-1.00M241.5,510.0v-0.67M242.0,510.0v-0.51M243.5,510.0v-0.57M248.0,510.0v-2.27M248.5,510.0v-1.69M249.0,510.0v-2.12M249.5,510.0v-4.00M250.0,510.0v-2.62M250.5,510.0v-2.50M251.0,510.0v-4.44M251.5,510.0v-6.50M252.0,510.0v-4.76M252.5,510.0v-3.80M253.0,510.0v-2.48M253.5,510.0v-4.00M254.0,510.0v-2.38M254.5,510.0v-2.41M255.0,510.0v-2.00M255.5,510.0v-1.10" stroke="#dc1c1c" stroke-width="0.72" fill="none"/>
<path d="M131.5,504.8v-1.81M132.0,503.6v-2.24M132.5,504.9v-1.78M133.0,500.0v-3.50M133.5,503.7v-2.21M134.0,504.6v-1.87M150.5,505.2v-1.66M166.5,505.3v-1.65M249.5,506.0v-1.40M251.0,505.6v-1.55M251.5,503.5v-2.27M252.0,505.2v-1.67M253.5,506.0v-1.40" stroke="#dc1c1c" stroke-width="0.55" fill="none" opacity="0.3"/>
<text x="125.39999999999999" y="513.8" font-size="2.9" fill="#111">[0-200.00]</text>
<line x1="125.1" y1="527.2" x2="256.2" y2="527.2" stroke="#c8c8c8" stroke-width="0.4"/>
<path d="M127.5,527.2v-1.30M128.0,527.2v-2.00M128.5,527.2v-0.88M129.0,527.2v-1.08M129.5,527.2v-1.72M130.0,527.2v-2.73M130.5,527.2v-3.79M131.0,527.2v-2.67M131.5,527.2v-5.67M132.0,527.2v-7.00M132.5,527.2v-6.06M133.0,527.2v-8.50M133.5,527.2v-5.10M134.0,527.2v-4.11M134.5,527.2v-1.04M135.0,527.2v-2.36M135.5,527.2v-3.00M136.0,527.2v-1.56M136.5,527.2v-1.24M137.0,527.2v-0.38M141.0,527.2v-0.53M141.5,527.2v-1.50M142.0,527.2v-1.07M146.0,527.2v-0.96M146.5,527.2v-1.67M147.0,527.2v-1.76M147.5,527.2v-1.40M148.5,527.2v-1.29M149.0,527.2v-2.00M149.5,527.2v-1.38M150.0,527.2v-2.68M150.5,527.2v-3.80M151.0,527.2v-2.85M155.5,527.2v-0.39M156.0,527.2v-0.94M159.0,527.2v-0.42M166.0,527.2v-4.13M166.5,527.2v-7.60M167.0,527.2v-4.91M169.5,527.2v-0.48M175.5,527.2v-0.72M176.0,527.2v-1.00M176.5,527.2v-0.63M181.5,527.2v-0.60M182.0,527.2v-1.00M182.5,527.2v-0.62M194.0,527.2v-0.93M194.5,527.2v-2.00M195.0,527.2v-1.39M208.5,527.2v-0.75M209.0,527.2v-0.76M209.5,527.2v-0.93M210.0,527.2v-1.50M210.5,527.2v-1.30M211.0,527.2v-0.84M211.5,527.2v-0.53M213.0,527.2v-0.70M213.5,527.2v-1.37M214.0,527.2v-2.00M214.5,527.2v-1.26M215.0,527.2v-1.24M217.0,527.2v-1.62M217.5,527.2v-2.52M218.0,527.2v-4.50M218.5,527.2v-3.16M219.0,527.2v-1.41M222.0,527.2v-0.31M224.5,527.2v-0.54M225.0,527.2v-1.50M225.5,527.2v-0.81M227.0,527.2v-0.53M228.5,527.2v-0.86M229.0,527.2v-2.00M229.5,527.2v-0.73M232.0,527.2v-0.32M235.0,527.2v-1.49M235.5,527.2v-3.50M236.0,527.2v-2.01M239.0,527.2v-1.06M239.5,527.2v-2.00M240.0,527.2v-0.71M245.5,527.2v-0.66M248.0,527.2v-0.80M248.5,527.2v-1.90M249.0,527.2v-2.50M249.5,527.2v-1.66M250.0,527.2v-0.89M250.5,527.2v-4.35M251.0,527.2v-2.84M251.5,527.2v-4.19M252.0,527.2v-4.58M252.5,527.2v-1.70M253.0,527.2v-1.60M253.5,527.2v-2.59M254.0,527.2v-1.67M254.5,527.2v-0.52M255.0,527.2v-1.33M255.5,527.2v-2.00M256.0,527.2v-1.35" stroke="#1e1e96" stroke-width="0.72" fill="none"/>
<path d="M131.5,521.5v-1.99M132.0,520.2v-2.45M132.5,521.1v-2.12M133.0,518.7v-2.97M133.5,522.1v-1.78M134.0,523.1v-1.44M166.0,523.1v-1.45M166.5,519.6v-2.66M167.0,522.3v-1.72M218.0,522.7v-1.57M250.5,522.8v-1.52M251.5,523.0v-1.47M252.0,522.6v-1.60" stroke="#1e1e96" stroke-width="0.55" fill="none" opacity="0.3"/>
<line x1="124.8" y1="529.4" x2="132.5" y2="529.4" stroke="#cc44cc" stroke-width="0.5"/>
<path d="M126.8,528.6999999999999l0.7,0.7l-0.7,0.7" stroke="#cc44cc" stroke-width="0.35" fill="none"/>
<path d="M130.8,528.6999999999999l0.7,0.7l-0.7,0.7" stroke="#cc44cc" stroke-width="0.35" fill="none"/>
<rect x="126" y="528.1999999999999" width="2.0" height="2.4" fill="#cc44cc"/>
<line x1="140" y1="529.4" x2="165" y2="529.4" stroke="#cc44cc" stroke-width="0.5"/>
<path d="M142.0,528.6999999999999l0.7,0.7l-0.7,0.7" stroke="#cc44cc" stroke-width="0.35" fill="none"/>
<path d="M146.0,528.6999999999999l0.7,0.7l-0.7,0.7" stroke="#cc44cc" stroke-width="0.35" fill="none"/>
<path d="M150.0,528.6999999999999l0.7,0.7l-0.7,0.7" stroke="#cc44cc" stroke-width="0.35" fill="none"/>
<path d="M154.0,528.6999999999999l0.7,0.7l-0.7,0.7" stroke="#cc44cc" stroke-width="0.35" fill="none"/>
<path d="M158.0,528.6999999999999l0.7,0.7l-0.7,0.7" stroke="#cc44cc" stroke-width="0.35" fill="none"/>
<path d="M162.0,528.6999999999999l0.7,0.7l-0.7,0.7" stroke="#cc44cc" stroke-width="0.35" fill="none"/>
<rect x="141" y="528.1999999999999" width="2.0" height="2.4" fill="#cc44cc"/>
<rect x="146" y="528.1999999999999" width="1.0" height="2.4" fill="#cc44cc"/>
<rect x="152" y="528.1999999999999" width="1.0" height="2.4" fill="#cc44cc"/>
<rect x="160" y="528.1999999999999" width="1.0" height="2.4" fill="#cc44cc"/>
<line x1="170" y1="529.4" x2="200" y2="529.4" stroke="#cc44cc" stroke-width="0.5"/>
<path d="M172.0,528.6999999999999l0.7,0.7l-0.7,0.7" stroke="#cc44cc" stroke-width="0.35" fill="none"/>
<path d="M176.0,528.6999999999999l0.7,0.7l-0.7,0.7" stroke="#cc44cc" stroke-width="0.35" fill="none"/>
<path d="M180.0,528.6999999999999l0.7,0.7l-0.7,0.7" stroke="#cc44cc" stroke-width="0.35" fill="none"/>
<path d="M184.0,528.6999999999999l0.7,0.7l-0.7,0.7" stroke="#cc44cc" stroke-width="0.35" fill="none"/>
<path d="M188.0,528.6999999999999l0.7,0.7l-0.7,0.7" stroke="#cc44cc" stroke-width="0.35" fill="none"/>
<path d="M192.0,528.6999999999999l0.7,0.7l-0.7,0.7" stroke="#cc44cc" stroke-width="0.35" fill="none"/>
<path d="M196.0,528.6999999999999l0.7,0.7l-0.7,0.7" stroke="#cc44cc" stroke-width="0.35" fill="none"/>
<rect x="176" y="528.1999999999999" width="1.0" height="2.4" fill="#cc44cc"/>
<rect x="188" y="528.1999999999999" width="2.0" height="2.4" fill="#cc44cc"/>
<rect x="193" y="528.1999999999999" width="2.0" height="2.4" fill="#cc44cc"/>
<rect x="197" y="528.1999999999999" width="3.0" height="2.4" fill="#cc44cc"/>
<line x1="225.2" y1="529.4" x2="242.3" y2="529.4" stroke="#cc44cc" stroke-width="0.5"/>
<path d="M227.2,528.6999999999999l0.7,0.7l-0.7,0.7" stroke="#cc44cc" stroke-width="0.35" fill="none"/>
<path d="M231.2,528.6999999999999l0.7,0.7l-0.7,0.7" stroke="#cc44cc" stroke-width="0.35" fill="none"/>
<path d="M235.2,528.6999999999999l0.7,0.7l-0.7,0.7" stroke="#cc44cc" stroke-width="0.35" fill="none"/>
<path d="M239.2,528.6999999999999l0.7,0.7l-0.7,0.7" stroke="#cc44cc" stroke-width="0.35" fill="none"/>
<rect x="236" y="528.1999999999999" width="3.0" height="2.4" fill="#cc44cc"/>
<line x1="246.8" y1="529.4" x2="253.9" y2="529.4" stroke="#cc44cc" stroke-width="0.5"/>
<path d="M248.8,528.6999999999999l0.7,0.7l-0.7,0.7" stroke="#cc44cc" stroke-width="0.35" fill="none"/>
<path d="M252.8,528.6999999999999l0.7,0.7l-0.7,0.7" stroke="#cc44cc" stroke-width="0.35" fill="none"/>
<rect x="247" y="528.1999999999999" width="6.0" height="2.4" fill="#cc44cc"/>
<text x="129" y="537.6" font-size="3.7" fill="#444" text-anchor="middle">ARC72</text>
<text x="148" y="537.6" font-size="3.7" fill="#444" text-anchor="middle">ANKMY2</text>
<text x="182" y="537.6" font-size="3.7" fill="#444" text-anchor="middle">BZW2</text>
<text x="234.3" y="537.6" font-size="3.7" fill="#444" text-anchor="middle">TSPAN13</text>
<text x="250.4" y="537.6" font-size="3.7" fill="#444" text-anchor="middle">AGR2</text>
<rect x="128.3" y="478.8" width="9.9" height="49.3" fill="none" stroke="#f7b548" stroke-width="0.7" stroke-dasharray="1.1,1.1"/>
<text class="k" x="345.40" y="466.70" font-size="12.8" text-anchor="middle" font-weight="normal" fill="#000" >AXIN2</text>
<text x="277.3" y="475.40000000000003" font-size="5.4" fill="#5577cc" text-anchor="end" font-style="italic">chr17</text>
<path d="M278.5,472.5 l1.5,1.1 l-1.5,1.1z" fill="#5577cc"/>
<line x1="279.8" y1="473.6" x2="330" y2="473.6" stroke="#c5d0ea" stroke-width="1.1"/>
<line x1="352" y1="473.6" x2="405.4" y2="473.6" stroke="#c5d0ea" stroke-width="1.1"/>
<path d="M406.7,472.40000000000003 l-1.6,1.2 l1.6,1.2z" fill="#5577cc"/>
<text x="341" y="475.90000000000003" font-size="5.5" fill="#5577cc" text-anchor="middle">478 kb</text>
<rect x="276.3" y="476.6" width="131.6" height="61.2" fill="#fff" stroke="#b4c2e2" stroke-width="0.9"/>
<text x="277.1" y="479.7" font-size="2.9" fill="#111">[0-200.00]</text>
<line x1="276.8" y1="493.1" x2="407.4" y2="493.1" stroke="#c8c8c8" stroke-width="0.4"/>
<path d="M277.0,493.1v-1.40M277.5,493.1v-2.00M278.0,493.1v-2.18M278.5,493.1v-4.18M279.0,493.1v-3.05M279.5,493.1v-1.63M280.0,493.1v-2.16M280.5,493.1v-1.68M281.0,493.1v-3.02M281.5,493.1v-2.66M282.0,493.1v-6.00M282.5,493.1v-3.41M283.0,493.1v-2.61M283.5,493.1v-2.47M284.0,493.1v-3.00M284.5,493.1v-2.41M285.0,493.1v-1.47M285.5,493.1v-0.97M286.0,493.1v-1.90M286.5,493.1v-0.96M289.0,493.1v-0.51M289.5,493.1v-1.50M290.0,493.1v-0.50M292.0,493.1v-1.42M292.5,493.1v-1.65M293.0,493.1v-1.82M293.5,493.1v-2.01M294.0,493.1v-4.01M294.5,493.1v-5.20M295.0,493.1v-8.30M295.5,493.1v-3.98M296.0,493.1v-2.51M296.5,493.1v-4.00M297.0,493.1v-2.42M297.5,493.1v-2.61M298.0,493.1v-2.00M298.5,493.1v-0.79M299.0,493.1v-0.92M299.5,493.1v-1.10M300.0,493.1v-1.50M300.5,493.1v-1.06M301.0,493.1v-0.93M302.0,493.1v-0.85M302.5,493.1v-1.10M303.0,493.1v-1.50M303.5,493.1v-0.80M304.0,493.1v-0.97M304.5,493.1v-0.69M305.0,493.1v-1.28M305.5,493.1v-0.89M306.0,493.1v-2.00M306.5,493.1v-1.43M307.0,493.1v-1.10M312.0,493.1v-0.44M312.5,493.1v-0.50M314.5,493.1v-0.32M324.5,493.1v-1.60M325.0,493.1v-2.81M329.0,493.1v-0.59M329.5,493.1v-0.49M331.0,493.1v-0.78M333.5,493.1v-0.62M345.5,493.1v-0.76M362.5,493.1v-0.56M363.0,493.1v-0.44M367.5,493.1v-2.20M368.0,493.1v-2.90M368.5,493.1v-2.26M369.0,493.1v-1.90M370.0,493.1v-1.72M370.5,493.1v-2.50M371.0,493.1v-1.52M372.5,493.1v-1.60M373.0,493.1v-2.81M374.0,493.1v-0.72M377.0,493.1v-0.85M377.5,493.1v-1.87M381.0,493.1v-0.70M381.5,493.1v-1.40M383.5,493.1v-6.29M384.0,493.1v-5.42M384.5,493.1v-9.03M385.0,493.1v-3.13M385.5,493.1v-6.29M386.0,493.1v-8.00M386.5,493.1v-4.10M387.0,493.1v-5.11M387.5,493.1v-2.70M388.0,493.1v-2.31M396.0,493.1v-1.52M396.5,493.1v-1.54M397.0,493.1v-3.00M397.5,493.1v-1.40M398.0,493.1v-1.43M398.5,493.1v-2.21M399.0,493.1v-2.29M399.5,493.1v-3.50M400.0,493.1v-1.42M400.5,493.1v-2.06M401.0,493.1v-1.22M401.5,493.1v-2.00M402.0,493.1v-1.36M403.0,493.1v-1.12M403.5,493.1v-2.26M404.0,493.1v-1.33M404.5,493.1v-1.73M406.5,493.1v-0.67M407.0,493.1v-1.40" stroke="#2aa52a" stroke-width="0.72" fill="none"/>
<path d="M278.5,488.9v-1.46M282.0,487.1v-2.10M294.0,489.1v-1.40M294.5,487.9v-1.82M295.0,484.8v-2.91M296.5,489.1v-1.40M383.5,486.8v-2.20M384.0,487.7v-1.90M384.5,484.1v-3.16M385.5,486.8v-2.20M386.0,485.1v-2.80M386.5,489.0v-1.44M387.0,488.0v-1.79" stroke="#2aa52a" stroke-width="0.55" fill="none" opacity="0.3"/>
<text x="277.1" y="496.8" font-size="2.9" fill="#111">[0-200.00]</text>
<line x1="276.8" y1="510.2" x2="407.4" y2="510.2" stroke="#c8c8c8" stroke-width="0.4"/>
<path d="M277.0,510.2v-1.13M277.5,510.2v-3.00M278.0,510.2v-3.70M278.5,510.2v-7.60M279.0,510.2v-4.52M279.5,510.2v-1.32M280.0,510.2v-3.00M280.5,510.2v-3.71M281.0,510.2v-6.65M281.5,510.2v-5.50M282.0,510.2v-1.28M282.5,510.2v-1.85M283.0,510.2v-3.00M283.5,510.2v-1.64M284.0,510.2v-1.36M284.5,510.2v-1.02M285.0,510.2v-2.00M285.5,510.2v-1.33M286.0,510.2v-0.94M286.5,510.2v-1.22M287.0,510.2v-1.97M287.5,510.2v-2.50M288.0,510.2v-1.02M288.5,510.2v-1.48M289.0,510.2v-2.00M289.5,510.2v-1.16M291.5,510.2v-1.19M292.0,510.2v-1.42M292.5,510.2v-1.22M293.0,510.2v-1.30M294.0,510.2v-3.24M294.5,510.2v-6.72M295.0,510.2v-5.86M295.5,510.2v-5.08M296.0,510.2v-5.00M296.5,510.2v-3.29M297.0,510.2v-2.03M297.5,510.2v-1.85M298.0,510.2v-1.59M298.5,510.2v-1.29M302.5,510.2v-0.61M303.0,510.2v-0.38M303.5,510.2v-0.79M304.0,510.2v-1.00M304.5,510.2v-0.58M305.0,510.2v-0.49M305.5,510.2v-0.39M313.0,510.2v-0.37M342.0,510.2v-0.69M363.0,510.2v-0.57M363.5,510.2v-0.89M368.0,510.2v-1.28M368.5,510.2v-2.13M369.0,510.2v-1.96M369.5,510.2v-2.35M374.0,510.2v-0.69M374.5,510.2v-1.00M375.0,510.2v-0.50M376.0,510.2v-1.12M376.5,510.2v-1.90M377.0,510.2v-1.54M378.0,510.2v-1.13M378.5,510.2v-2.50M379.0,510.2v-0.91M380.0,510.2v-1.25M380.5,510.2v-3.00M381.0,510.2v-1.20M383.5,510.2v-8.64M384.0,510.2v-14.25M384.5,510.2v-7.87M385.0,510.2v-7.78M385.5,510.2v-5.31M386.0,510.2v-6.38M386.5,510.2v-2.29M387.0,510.2v-4.00M387.5,510.2v-1.93M393.0,510.2v-0.56M393.5,510.2v-0.43M396.0,510.2v-3.92M396.5,510.2v-5.70M397.0,510.2v-4.60M397.5,510.2v-2.91M398.0,510.2v-3.57M398.5,510.2v-2.45M399.5,510.2v-1.41M400.0,510.2v-1.92M400.5,510.2v-2.50M401.0,510.2v-1.99M401.5,510.2v-1.41M402.0,510.2v-1.29M402.5,510.2v-1.01M403.0,510.2v-2.00M403.5,510.2v-1.31M404.0,510.2v-1.07M404.5,510.2v-0.85M405.0,510.2v-1.10M405.5,510.2v-2.00M406.0,510.2v-0.90M406.5,510.2v-1.28" stroke="#dc1c1c" stroke-width="0.72" fill="none"/>
<path d="M278.5,502.6v-2.66M279.0,505.7v-1.58M281.0,503.6v-2.33M281.5,504.7v-1.92M294.5,503.5v-2.35M295.0,504.3v-2.05M295.5,505.1v-1.78M296.0,505.2v-1.75M383.5,501.6v-3.03M384.0,496.0v-4.99M384.5,502.3v-2.75M385.0,502.4v-2.72M385.5,504.9v-1.86M386.0,503.8v-2.23M387.0,506.2v-1.40M396.5,504.5v-1.99M397.0,505.6v-1.61" stroke="#dc1c1c" stroke-width="0.55" fill="none" opacity="0.3"/>
<text x="277.1" y="514.1" font-size="2.9" fill="#111">[0-200.00]</text>
<line x1="276.8" y1="527.5" x2="407.4" y2="527.5" stroke="#c8c8c8" stroke-width="0.4"/>
<path d="M277.0,527.5v-1.27M277.5,527.5v-3.52M278.0,527.5v-5.70M278.5,527.5v-4.10M279.5,527.5v-1.23M280.0,527.5v-3.00M280.5,527.5v-1.00M281.0,527.5v-2.75M281.5,527.5v-5.22M282.0,527.5v-2.29M282.5,527.5v-1.10M283.0,527.5v-1.37M283.5,527.5v-1.13M284.0,527.5v-0.58M286.0,527.5v-1.74M286.5,527.5v-3.00M287.0,527.5v-2.09M290.5,527.5v-0.55M291.0,527.5v-1.50M291.5,527.5v-0.82M294.0,527.5v-1.39M294.5,527.5v-3.80M295.0,527.5v-2.62M295.5,527.5v-0.77M296.0,527.5v-1.40M296.5,527.5v-0.79M301.5,527.5v-0.78M302.0,527.5v-1.87M303.5,527.5v-0.51M304.5,527.5v-0.46M305.0,527.5v-0.94M324.0,527.5v-0.63M324.5,527.5v-0.60M338.0,527.5v-0.32M362.5,527.5v-0.36M365.5,527.5v-0.91M368.0,527.5v-1.39M368.5,527.5v-2.00M369.0,527.5v-0.93M372.5,527.5v-0.89M373.0,527.5v-1.90M373.5,527.5v-1.53M375.0,527.5v-0.92M378.0,527.5v-0.84M378.5,527.5v-1.50M379.0,527.5v-0.55M380.0,527.5v-1.27M380.5,527.5v-2.00M381.0,527.5v-0.93M383.5,527.5v-9.18M384.0,527.5v-12.82M384.5,527.5v-8.64M385.0,527.5v-7.44M385.5,527.5v-6.03M386.0,527.5v-6.31M386.5,527.5v-1.33M387.0,527.5v-4.00M387.5,527.5v-1.83M388.5,527.5v-0.71M389.0,527.5v-0.39M391.0,527.5v-0.31M395.5,527.5v-2.87M396.0,527.5v-4.75M396.5,527.5v-4.00M397.0,527.5v-2.27M397.5,527.5v-3.24M398.0,527.5v-1.81M398.5,527.5v-2.13M399.5,527.5v-3.02M400.0,527.5v-5.22M400.5,527.5v-3.03M401.5,527.5v-1.47M402.0,527.5v-3.00M402.5,527.5v-1.91M403.0,527.5v-1.63M403.5,527.5v-1.87M404.0,527.5v-3.21M404.5,527.5v-3.15M405.5,527.5v-1.30M406.0,527.5v-2.00M406.5,527.5v-1.18" stroke="#1e1e96" stroke-width="0.72" fill="none"/>
<path d="M278.0,521.8v-1.99M278.5,523.4v-1.43M281.5,522.3v-1.83M383.5,518.3v-3.21M384.0,514.7v-4.49M384.5,518.9v-3.02M385.0,520.1v-2.61M385.5,521.5v-2.11M386.0,521.2v-2.21M387.0,523.5v-1.40M396.0,522.8v-1.66M400.0,522.3v-1.83" stroke="#1e1e96" stroke-width="0.55" fill="none" opacity="0.3"/>
<line x1="282" y1="529.3" x2="306.7" y2="529.3" stroke="#cc44cc" stroke-width="0.5"/>
<path d="M284.0,528.5999999999999l0.7,0.7l-0.7,0.7" stroke="#cc44cc" stroke-width="0.35" fill="none"/>
<path d="M288.0,528.5999999999999l0.7,0.7l-0.7,0.7" stroke="#cc44cc" stroke-width="0.35" fill="none"/>
<path d="M292.0,528.5999999999999l0.7,0.7l-0.7,0.7" stroke="#cc44cc" stroke-width="0.35" fill="none"/>
<path d="M296.0,528.5999999999999l0.7,0.7l-0.7,0.7" stroke="#cc44cc" stroke-width="0.35" fill="none"/>
<path d="M300.0,528.5999999999999l0.7,0.7l-0.7,0.7" stroke="#cc44cc" stroke-width="0.35" fill="none"/>
<path d="M304.0,528.5999999999999l0.7,0.7l-0.7,0.7" stroke="#cc44cc" stroke-width="0.35" fill="none"/>
<rect x="282" y="528.0999999999999" width="1.0" height="2.4" fill="#cc44cc"/>
<rect x="287" y="528.0999999999999" width="1.0" height="2.4" fill="#cc44cc"/>
<rect x="290" y="528.0999999999999" width="1.0" height="2.4" fill="#cc44cc"/>
<rect x="296" y="528.0999999999999" width="1.0" height="2.4" fill="#cc44cc"/>
<rect x="300" y="528.0999999999999" width="3.0" height="2.4" fill="#cc44cc"/>
<line x1="368.3" y1="529.3" x2="369.1" y2="529.3" stroke="#cc44cc" stroke-width="0.5"/>
<rect x="368.3" y="528.0999999999999" width="0.8" height="2.4" fill="#cc44cc"/>
<line x1="388.3" y1="529.3" x2="396.8" y2="529.3" stroke="#cc44cc" stroke-width="0.5"/>
<path d="M390.3,528.5999999999999l0.7,0.7l-0.7,0.7" stroke="#cc44cc" stroke-width="0.35" fill="none"/>
<path d="M394.3,528.5999999999999l0.7,0.7l-0.7,0.7" stroke="#cc44cc" stroke-width="0.35" fill="none"/>
<rect x="388.3" y="528.0999999999999" width="2.7" height="2.4" fill="#cc44cc"/>
<text x="294.1" y="537.5" font-size="3.7" fill="#444" text-anchor="middle">RGS3</text>
<text x="368.7" y="537.5" font-size="3.7" fill="#444" text-anchor="middle">CRAT16</text>
<text x="392.3" y="537.5" font-size="3.7" fill="#444" text-anchor="middle">AXIN2</text>
<rect x="289" y="479.9" width="10.5" height="49.3" fill="none" stroke="#f7b548" stroke-width="0.7" stroke-dasharray="1.1,1.1"/>
<rect x="379.6" y="479.9" width="10.1" height="49.3" fill="none" stroke="#f7b548" stroke-width="0.7" stroke-dasharray="1.1,1.1"/>
<text class="k" x="190.60" y="562.30" font-size="12.8" text-anchor="middle" font-weight="normal" fill="#000" >CDK6</text>
<text x="125.2" y="573.4" font-size="5.4" fill="#5577cc" text-anchor="end" font-style="italic">chr7</text>
<path d="M126.4,570.5 l1.5,1.1 l-1.5,1.1z" fill="#5577cc"/>
<line x1="127.7" y1="571.6" x2="172" y2="571.6" stroke="#c5d0ea" stroke-width="1.1"/>
<line x1="194" y1="571.6" x2="253.0" y2="571.6" stroke="#c5d0ea" stroke-width="1.1"/>
<path d="M254.3,570.4 l-1.6,1.2 l1.6,1.2z" fill="#5577cc"/>
<text x="183" y="573.9" font-size="5.5" fill="#5577cc" text-anchor="middle">246 kb</text>
<rect x="124.2" y="574.6" width="131.3" height="63.4" fill="#fff" stroke="#b4c2e2" stroke-width="0.9"/>
<text x="125.0" y="577.8" font-size="2.9" fill="#111">[0-200.00]</text>
<line x1="124.7" y1="591.2" x2="255.0" y2="591.2" stroke="#c8c8c8" stroke-width="0.4"/>
<path d="M125.0,591.2v-0.86M125.5,591.2v-1.87M128.5,591.2v-1.08M129.0,591.2v-2.00M129.5,591.2v-1.53M130.0,591.2v-1.97M130.5,591.2v-3.00M131.0,591.2v-2.38M131.5,591.2v-1.96M132.0,591.2v-4.00M132.5,591.2v-2.98M133.0,591.2v-5.70M133.5,591.2v-4.37M134.0,591.2v-1.54M134.5,591.2v-3.00M135.0,591.2v-1.73M137.5,591.2v-0.41M138.0,591.2v-0.68M139.5,591.2v-0.72M140.0,591.2v-0.63M142.0,591.2v-1.23M142.5,591.2v-2.00M143.0,591.2v-1.18M144.5,591.2v-0.70M145.0,591.2v-0.94M147.5,591.2v-2.18M148.0,591.2v-3.50M148.5,591.2v-1.95M149.0,591.2v-0.53M150.5,591.2v-0.48M151.0,591.2v-0.40M154.5,591.2v-2.00M155.0,591.2v-3.00M155.5,591.2v-1.53M157.5,591.2v-1.22M158.0,591.2v-2.00M158.5,591.2v-1.34M161.5,591.2v-0.65M162.0,591.2v-0.81M165.0,591.2v-0.96M166.5,591.2v-0.96M167.0,591.2v-2.00M167.5,591.2v-2.09M168.0,591.2v-3.67M168.5,591.2v-4.60M169.0,591.2v-3.55M169.5,591.2v-1.51M170.0,591.2v-2.50M170.5,591.2v-1.02M172.0,591.2v-0.71M173.5,591.2v-0.93M174.0,591.2v-2.47M174.5,591.2v-3.50M175.0,591.2v-1.74M175.5,591.2v-1.60M176.0,591.2v-1.62M176.5,591.2v-2.01M177.0,591.2v-1.42M178.0,591.2v-0.92M178.5,591.2v-2.00M179.0,591.2v-1.11M182.0,591.2v-0.86M182.5,591.2v-1.40M186.0,591.2v-1.06M186.5,591.2v-1.40M187.5,591.2v-0.74M188.5,591.2v-0.49M191.5,591.2v-0.34M192.5,591.2v-0.64M193.0,591.2v-0.98M194.0,591.2v-0.65M197.0,591.2v-1.07M197.5,591.2v-1.27M199.0,591.2v-1.15M199.5,591.2v-1.90M200.0,591.2v-0.86M200.5,591.2v-1.24M201.0,591.2v-1.72M201.5,591.2v-1.74M202.0,591.2v-1.09M209.0,591.2v-0.60M212.0,591.2v-1.56M212.5,591.2v-2.34M214.0,591.2v-2.38M214.5,591.2v-5.70M215.0,591.2v-4.98M215.5,591.2v-8.84M216.0,591.2v-4.51M216.5,591.2v-5.70M217.0,591.2v-4.41M217.5,591.2v-2.95M218.0,591.2v-3.74M219.0,591.2v-0.36M219.5,591.2v-0.92M220.5,591.2v-0.89M221.5,591.2v-0.31M222.0,591.2v-0.61M224.5,591.2v-0.84M226.0,591.2v-0.82M227.0,591.2v-0.53M228.5,591.2v-0.91M229.0,591.2v-0.94M229.5,591.2v-1.12M230.0,591.2v-1.25M230.5,591.2v-1.88M231.0,591.2v-1.25M231.5,591.2v-2.17M232.0,591.2v-1.02M233.0,591.2v-1.21M233.5,591.2v-2.00M234.0,591.2v-0.91M235.0,591.2v-1.57M235.5,591.2v-2.17M236.0,591.2v-1.67M236.5,591.2v-1.78M238.0,591.2v-0.87M238.5,591.2v-1.90M239.0,591.2v-0.79M240.0,591.2v-0.82M242.5,591.2v-0.60M243.0,591.2v-0.40M249.0,591.2v-1.20M249.5,591.2v-3.00M250.0,591.2v-1.45M250.5,591.2v-2.64M251.0,591.2v-2.35M251.5,591.2v-2.17M252.0,591.2v-3.31M252.5,591.2v-4.36M253.0,591.2v-9.50M253.5,591.2v-7.82M254.0,591.2v-4.07M254.5,591.2v-6.00M255.0,591.2v-2.84" stroke="#2aa52a" stroke-width="0.72" fill="none"/>
<path d="M132.0,587.2v-1.40M133.0,585.5v-2.00M133.5,586.8v-1.53M168.5,586.6v-1.61M214.5,585.5v-2.00M215.0,586.2v-1.74M215.5,582.4v-3.09M216.0,586.7v-1.58M216.5,585.5v-2.00M217.0,586.8v-1.55M252.5,586.8v-1.53M253.0,581.7v-3.33M253.5,583.4v-2.74M254.0,587.1v-1.42M254.5,585.2v-2.10" stroke="#2aa52a" stroke-width="0.55" fill="none" opacity="0.3"/>
<text x="125.0" y="594.7" font-size="2.9" fill="#111">[0-200.00]</text>
<line x1="124.7" y1="608.1" x2="255.0" y2="608.1" stroke="#c8c8c8" stroke-width="0.4"/>
<path d="M125.5,608.1v-1.74M126.0,608.1v-2.81M129.5,608.1v-0.80M130.5,608.1v-1.78M131.0,608.1v-3.50M131.5,608.1v-2.29M133.0,608.1v-3.79M133.5,608.1v-5.70M134.0,608.1v-3.63M135.0,608.1v-1.59M135.5,608.1v-2.81M138.5,608.1v-0.49M139.0,608.1v-0.38M140.5,608.1v-0.63M141.0,608.1v-0.94M145.5,608.1v-1.61M146.0,608.1v-2.38M146.5,608.1v-1.34M147.0,608.1v-1.49M147.5,608.1v-2.38M148.0,608.1v-1.96M149.0,608.1v-1.27M149.5,608.1v-2.50M150.0,608.1v-1.04M152.5,608.1v-0.42M153.0,608.1v-1.00M153.5,608.1v-0.61M155.0,608.1v-0.84M156.5,608.1v-0.59M157.0,608.1v-1.00M157.5,608.1v-0.70M158.5,608.1v-0.65M160.5,608.1v-0.68M161.0,608.1v-0.94M163.0,608.1v-0.55M164.0,608.1v-0.68M166.0,608.1v-1.22M166.5,608.1v-2.85M167.0,608.1v-1.33M167.5,608.1v-4.97M168.0,608.1v-11.40M168.5,608.1v-5.31M169.0,608.1v-3.52M169.5,608.1v-5.70M170.0,608.1v-4.43M170.5,608.1v-2.11M171.0,608.1v-2.81M173.0,608.1v-0.33M173.5,608.1v-0.44M174.5,608.1v-1.32M175.0,608.1v-2.81M175.5,608.1v-4.13M176.0,608.1v-5.61M177.0,608.1v-1.85M177.5,608.1v-3.74M183.0,608.1v-1.01M183.5,608.1v-1.87M185.5,608.1v-1.22M186.0,608.1v-2.00M186.5,608.1v-0.71M187.5,608.1v-0.38M188.0,608.1v-0.72M188.5,608.1v-2.00M189.0,608.1v-1.31M191.0,608.1v-0.58M192.0,608.1v-0.98M193.0,608.1v-0.63M195.5,608.1v-0.95M196.0,608.1v-1.10M199.5,608.1v-1.71M200.0,608.1v-4.76M200.5,608.1v-7.30M201.0,608.1v-0.78M201.5,608.1v-0.98M202.0,608.1v-3.00M202.5,608.1v-1.37M203.0,608.1v-0.42M203.5,608.1v-0.34M204.5,608.1v-1.03M205.0,608.1v-1.87M206.5,608.1v-2.13M207.0,608.1v-3.74M208.0,608.1v-0.51M209.5,608.1v-0.51M210.5,608.1v-0.57M212.5,608.1v-0.81M213.0,608.1v-2.00M213.5,608.1v-1.11M214.0,608.1v-4.59M214.5,608.1v-4.08M215.0,608.1v-4.82M215.5,608.1v-2.58M216.0,608.1v-5.89M216.5,608.1v-13.30M217.0,608.1v-9.14M217.5,608.1v-1.84M218.0,608.1v-5.00M218.5,608.1v-3.37M222.5,608.1v-0.63M224.0,608.1v-1.41M224.5,608.1v-1.87M228.0,608.1v-0.68M228.5,608.1v-1.70M229.0,608.1v-1.20M229.5,608.1v-1.25M230.0,608.1v-0.70M230.5,608.1v-0.36M231.0,608.1v-1.87M231.5,608.1v-3.00M232.0,608.1v-1.32M233.0,608.1v-1.61M233.5,608.1v-2.01M234.0,608.1v-3.00M234.5,608.1v-2.22M235.0,608.1v-1.17M236.0,608.1v-3.11M236.5,608.1v-5.00M237.0,608.1v-3.52M238.0,608.1v-1.15M238.5,608.1v-1.90M239.0,608.1v-1.19M239.5,608.1v-0.32M241.5,608.1v-0.63M243.0,608.1v-0.33M243.5,608.1v-0.60M244.0,608.1v-1.00M244.5,608.1v-0.53M245.0,608.1v-0.55M246.5,608.1v-0.88M248.5,608.1v-1.73M249.0,608.1v-2.85M249.5,608.1v-1.83M250.0,608.1v-1.85M250.5,608.1v-3.53M251.0,608.1v-3.66M251.5,608.1v-1.96M252.5,608.1v-3.95M253.0,608.1v-5.70M253.5,608.1v-3.89M254.0,608.1v-1.49M254.5,608.1v-4.00M255.0,608.1v-2.77" stroke="#dc1c1c" stroke-width="0.72" fill="none"/>
<path d="M133.5,602.4v-2.00M167.5,603.1v-1.74M168.0,596.7v-3.99M168.5,602.8v-1.86M169.5,602.4v-2.00M170.0,603.7v-1.55M175.5,604.0v-1.44M176.0,602.5v-1.97M200.0,603.3v-1.67M200.5,600.8v-2.55M214.0,603.5v-1.61M214.5,604.0v-1.43M215.0,603.3v-1.69M216.0,602.2v-2.06M216.5,594.8v-4.66M217.0,599.0v-3.20M218.0,603.1v-1.75M236.5,603.1v-1.75M253.0,602.4v-2.00M254.5,604.1v-1.40" stroke="#dc1c1c" stroke-width="0.55" fill="none" opacity="0.3"/>
<text x="125.0" y="611.5" font-size="2.9" fill="#111">[0-200.00]</text>
<line x1="124.7" y1="624.9" x2="255.0" y2="624.9" stroke="#c8c8c8" stroke-width="0.4"/>
<path d="M125.0,624.9v-0.44M126.0,624.9v-0.77M126.5,624.9v-0.54M128.0,624.9v-0.43M128.5,624.9v-0.60M129.5,624.9v-0.68M130.0,624.9v-0.52M130.5,624.9v-0.77M131.0,624.9v-1.40M131.5,624.9v-1.25M132.0,624.9v-1.24M132.5,624.9v-1.72M133.0,624.9v-1.26M133.5,624.9v-1.87M139.5,624.9v-0.75M141.0,624.9v-1.08M141.5,624.9v-1.27M147.0,624.9v-2.05M147.5,624.9v-3.28M154.0,624.9v-0.70M155.0,624.9v-1.86M155.5,624.9v-1.58M157.0,624.9v-0.77M158.0,624.9v-0.79M158.5,624.9v-1.24M161.5,624.9v-0.73M162.0,624.9v-0.83M166.5,624.9v-1.54M167.0,624.9v-3.00M167.5,624.9v-3.77M168.0,624.9v-7.60M168.5,624.9v-6.39M169.0,624.9v-5.70M169.5,624.9v-2.93M170.5,624.9v-1.43M171.0,624.9v-1.87M172.0,624.9v-0.49M174.0,624.9v-0.47M175.5,624.9v-1.64M176.0,624.9v-3.74M177.5,624.9v-0.75M178.0,624.9v-1.87M178.5,624.9v-0.83M180.0,624.9v-0.98M180.5,624.9v-0.78M181.0,624.9v-0.97M182.5,624.9v-0.57M186.5,624.9v-0.43M187.0,624.9v-0.57M187.5,624.9v-0.68M190.5,624.9v-0.68M191.0,624.9v-2.00M191.5,624.9v-1.24M192.5,624.9v-1.05M193.0,624.9v-2.38M193.5,624.9v-1.38M195.0,624.9v-0.92M195.5,624.9v-2.00M196.0,624.9v-1.23M197.5,624.9v-0.96M198.0,624.9v-1.40M199.5,624.9v-0.90M200.0,624.9v-1.87M201.0,624.9v-0.98M202.0,624.9v-0.56M202.5,624.9v-1.40M206.0,624.9v-0.68M208.5,624.9v-0.91M209.0,624.9v-1.87M213.0,624.9v-1.82M213.5,624.9v-1.73M214.0,624.9v-1.96M214.5,624.9v-2.48M215.0,624.9v-5.15M215.5,624.9v-8.36M216.0,624.9v-6.95M216.5,624.9v-3.46M217.0,624.9v-4.75M217.5,624.9v-3.73M218.0,624.9v-0.97M218.5,624.9v-1.87M222.0,624.9v-0.60M223.5,624.9v-0.90M224.0,624.9v-0.53M232.5,624.9v-1.09M233.0,624.9v-1.26M235.0,624.9v-0.52M236.0,624.9v-0.68M238.5,624.9v-0.87M239.0,624.9v-0.83M243.5,624.9v-0.71M244.0,624.9v-0.52M245.0,624.9v-0.32M246.0,624.9v-0.88M248.5,624.9v-1.01M249.0,624.9v-2.00M249.5,624.9v-1.35M250.0,624.9v-2.10M250.5,624.9v-1.88M251.0,624.9v-1.87M251.5,624.9v-2.23M253.0,624.9v-1.96M253.5,624.9v-2.93M254.0,624.9v-4.36M254.5,624.9v-3.40M255.0,624.9v-2.81" stroke="#1e1e96" stroke-width="0.72" fill="none"/>
<path d="M168.0,617.3v-2.66M168.5,618.5v-2.24M169.0,619.2v-2.00M215.0,619.8v-1.80M215.5,616.5v-2.93M216.0,618.0v-2.43M217.0,620.1v-1.66M254.0,620.5v-1.53" stroke="#1e1e96" stroke-width="0.55" fill="none" opacity="0.3"/>
<line x1="124.5" y1="627.2" x2="254" y2="627.2" stroke="#cc44cc" stroke-width="0.5"/>
<path d="M126.5,626.5l0.7,0.7l-0.7,0.7" stroke="#cc44cc" stroke-width="0.35" fill="none"/>
<path d="M130.5,626.5l0.7,0.7l-0.7,0.7" stroke="#cc44cc" stroke-width="0.35" fill="none"/>
<path d="M134.5,626.5l0.7,0.7l-0.7,0.7" stroke="#cc44cc" stroke-width="0.35" fill="none"/>
<path d="M138.5,626.5l0.7,0.7l-0.7,0.7" stroke="#cc44cc" stroke-width="0.35" fill="none"/>
<path d="M142.5,626.5l0.7,0.7l-0.7,0.7" stroke="#cc44cc" stroke-width="0.35" fill="none"/>
<path d="M146.5,626.5l0.7,0.7l-0.7,0.7" stroke="#cc44cc" stroke-width="0.35" fill="none"/>
<path d="M150.5,626.5l0.7,0.7l-0.7,0.7" stroke="#cc44cc" stroke-width="0.35" fill="none"/>
<path d="M154.5,626.5l0.7,0.7l-0.7,0.7" stroke="#cc44cc" stroke-width="0.35" fill="none"/>
<path d="M158.5,626.5l0.7,0.7l-0.7,0.7" stroke="#cc44cc" stroke-width="0.35" fill="none"/>
<path d="M162.5,626.5l0.7,0.7l-0.7,0.7" stroke="#cc44cc" stroke-width="0.35" fill="none"/>
<path d="M166.5,626.5l0.7,0.7l-0.7,0.7" stroke="#cc44cc" stroke-width="0.35" fill="none"/>
<path d="M170.5,626.5l0.7,0.7l-0.7,0.7" stroke="#cc44cc" stroke-width="0.35" fill="none"/>
<path d="M174.5,626.5l0.7,0.7l-0.7,0.7" stroke="#cc44cc" stroke-width="0.35" fill="none"/>
<path d="M178.5,626.5l0.7,0.7l-0.7,0.7" stroke="#cc44cc" stroke-width="0.35" fill="none"/>
<path d="M182.5,626.5l0.7,0.7l-0.7,0.7" stroke="#cc44cc" stroke-width="0.35" fill="none"/>
<path d="M186.5,626.5l0.7,0.7l-0.7,0.7" stroke="#cc44cc" stroke-width="0.35" fill="none"/>
<path d="M190.5,626.5l0.7,0.7l-0.7,0.7" stroke="#cc44cc" stroke-width="0.35" fill="none"/>
<path d="M194.5,626.5l0.7,0.7l-0.7,0.7" stroke="#cc44cc" stroke-width="0.35" fill="none"/>
<path d="M198.5,626.5l0.7,0.7l-0.7,0.7" stroke="#cc44cc" stroke-width="0.35" fill="none"/>
<path d="M202.5,626.5l0.7,0.7l-0.7,0.7" stroke="#cc44cc" stroke-width="0.35" fill="none"/>
<path d="M206.5,626.5l0.7,0.7l-0.7,0.7" stroke="#cc44cc" stroke-width="0.35" fill="none"/>
<path d="M210.5,626.5l0.7,0.7l-0.7,0.7" stroke="#cc44cc" stroke-width="0.35" fill="none"/>
<path d="M214.5,626.5l0.7,0.7l-0.7,0.7" stroke="#cc44cc" stroke-width="0.35" fill="none"/>
<path d="M218.5,626.5l0.7,0.7l-0.7,0.7" stroke="#cc44cc" stroke-width="0.35" fill="none"/>
<path d="M222.5,626.5l0.7,0.7l-0.7,0.7" stroke="#cc44cc" stroke-width="0.35" fill="none"/>
<path d="M226.5,626.5l0.7,0.7l-0.7,0.7" stroke="#cc44cc" stroke-width="0.35" fill="none"/>
<path d="M230.5,626.5l0.7,0.7l-0.7,0.7" stroke="#cc44cc" stroke-width="0.35" fill="none"/>
<path d="M234.5,626.5l0.7,0.7l-0.7,0.7" stroke="#cc44cc" stroke-width="0.35" fill="none"/>
<path d="M238.5,626.5l0.7,0.7l-0.7,0.7" stroke="#cc44cc" stroke-width="0.35" fill="none"/>
<path d="M242.5,626.5l0.7,0.7l-0.7,0.7" stroke="#cc44cc" stroke-width="0.35" fill="none"/>
<path d="M246.5,626.5l0.7,0.7l-0.7,0.7" stroke="#cc44cc" stroke-width="0.35" fill="none"/>
<path d="M250.5,626.5l0.7,0.7l-0.7,0.7" stroke="#cc44cc" stroke-width="0.35" fill="none"/>
<rect x="124.5" y="626.0" width="6.3" height="2.4" fill="#cc44cc"/>
<rect x="133" y="626.0" width="1.0" height="2.4" fill="#cc44cc"/>
<rect x="135.5" y="626.0" width="1.0" height="2.4" fill="#cc44cc"/>
<text x="190.5" y="635.4" font-size="3.7" fill="#444" text-anchor="middle">CDK6</text>
<text x="252" y="635.4" font-size="3.7" fill="#444" text-anchor="middle">NR_1</text>
<rect x="163.1" y="577.9" width="10.7" height="49.3" fill="none" stroke="#f7b548" stroke-width="0.7" stroke-dasharray="1.1,1.1"/>
<rect x="210.3" y="577.9" width="10.2" height="49.3" fill="none" stroke="#f7b548" stroke-width="0.7" stroke-dasharray="1.1,1.1"/>
<text class="k" x="350.30" y="562.40" font-size="12.8" text-anchor="middle" font-weight="normal" fill="#000" >MYH10</text>
<text x="277.5" y="573.0999999999999" font-size="5.4" fill="#5577cc" text-anchor="end" font-style="italic">chr17</text>
<path d="M278.7,570.1999999999999 l1.5,1.1 l-1.5,1.1z" fill="#5577cc"/>
<line x1="280.0" y1="571.3" x2="323.5" y2="571.3" stroke="#c5d0ea" stroke-width="1.1"/>
<line x1="345.5" y1="571.3" x2="405.1" y2="571.3" stroke="#c5d0ea" stroke-width="1.1"/>
<path d="M406.40000000000003,570.0999999999999 l-1.6,1.2 l1.6,1.2z" fill="#5577cc"/>
<text x="335" y="573.5999999999999" font-size="5.5" fill="#5577cc" text-anchor="middle">309 kb</text>
<rect x="276.5" y="574.3" width="131.1" height="63.7" fill="#fff" stroke="#b4c2e2" stroke-width="0.9"/>
<text x="277.3" y="578.2" font-size="2.9" fill="#111">[0-200.00]</text>
<line x1="277.0" y1="591.6" x2="407.1" y2="591.6" stroke="#c8c8c8" stroke-width="0.4"/>
<path d="M277.5,591.6v-0.64M279.0,591.6v-0.67M281.0,591.6v-0.45M281.5,591.6v-0.43M282.5,591.6v-0.59M284.5,591.6v-0.52M285.0,591.6v-0.48M288.0,591.6v-0.95M288.5,591.6v-0.38M289.0,591.6v-0.57M290.5,591.6v-0.74M291.0,591.6v-0.76M292.5,591.6v-0.45M297.5,591.6v-1.22M298.0,591.6v-1.90M298.5,591.6v-0.92M299.0,591.6v-1.56M299.5,591.6v-2.85M300.0,591.6v-1.45M300.5,591.6v-1.91M301.0,591.6v-4.75M301.5,591.6v-3.21M302.0,591.6v-7.08M302.5,591.6v-6.99M303.0,591.6v-5.36M303.5,591.6v-2.56M304.0,591.6v-4.00M304.5,591.6v-1.60M305.5,591.6v-0.45M306.0,591.6v-1.00M306.5,591.6v-0.91M307.0,591.6v-0.87M313.0,591.6v-0.32M314.5,591.6v-1.23M315.0,591.6v-2.00M315.5,591.6v-1.32M317.0,591.6v-1.01M317.5,591.6v-1.50M318.0,591.6v-0.68M319.5,591.6v-1.52M320.0,591.6v-1.74M321.5,591.6v-0.38M322.0,591.6v-1.62M322.5,591.6v-2.81M324.5,591.6v-0.64M325.0,591.6v-0.92M328.0,591.6v-1.11M328.5,591.6v-2.81M329.5,591.6v-2.92M330.0,591.6v-3.66M330.5,591.6v-3.10M331.0,591.6v-1.98M331.5,591.6v-3.20M332.0,591.6v-3.35M332.5,591.6v-4.29M333.0,591.6v-3.27M334.0,591.6v-1.57M334.5,591.6v-3.00M335.0,591.6v-1.46M336.5,591.6v-0.60M337.0,591.6v-0.58M344.0,591.6v-1.89M344.5,591.6v-4.75M345.0,591.6v-2.47M345.5,591.6v-1.88M346.0,591.6v-2.85M346.5,591.6v-1.14M348.0,591.6v-1.66M348.5,591.6v-4.75M349.0,591.6v-3.18M349.5,591.6v-1.22M350.0,591.6v-1.96M350.5,591.6v-1.95M351.0,591.6v-1.37M352.0,591.6v-1.44M352.5,591.6v-2.00M353.0,591.6v-0.80M354.5,591.6v-1.37M355.0,591.6v-1.48M355.5,591.6v-2.20M356.0,591.6v-1.29M357.0,591.6v-1.52M357.5,591.6v-2.64M358.0,591.6v-2.01M358.5,591.6v-1.89M359.5,591.6v-1.91M360.0,591.6v-1.33M360.5,591.6v-1.33M361.0,591.6v-1.23M362.0,591.6v-2.05M362.5,591.6v-2.42M363.0,591.6v-1.87M363.5,591.6v-1.58M365.0,591.6v-1.15M365.5,591.6v-2.85M366.0,591.6v-1.69M367.5,591.6v-0.68M368.0,591.6v-2.00M368.5,591.6v-1.20M370.5,591.6v-3.30M371.0,591.6v-4.75M371.5,591.6v-3.90M372.0,591.6v-5.75M372.5,591.6v-8.58M373.0,591.6v-4.22M373.5,591.6v-5.28M374.0,591.6v-6.15M374.5,591.6v-4.96M375.0,591.6v-5.53M376.0,591.6v-2.77M376.5,591.6v-4.75M377.0,591.6v-3.60M378.0,591.6v-1.71M378.5,591.6v-3.80M379.0,591.6v-1.78M380.0,591.6v-1.70M380.5,591.6v-3.32M381.0,591.6v-1.47M382.0,591.6v-1.39M382.5,591.6v-2.85M383.0,591.6v-2.35M384.5,591.6v-3.41M385.0,591.6v-7.50M385.5,591.6v-2.45M386.5,591.6v-1.36M387.0,591.6v-4.00M387.5,591.6v-1.56M388.5,591.6v-3.17M389.0,591.6v-5.00M389.5,591.6v-2.33M390.5,591.6v-2.63M391.0,591.6v-6.00M391.5,591.6v-2.17M392.5,591.6v-7.12M393.0,591.6v-10.00M393.5,591.6v-4.91M394.0,591.6v-1.26M394.5,591.6v-2.81M395.5,591.6v-0.42M397.5,591.6v-1.08M398.0,591.6v-2.81M399.0,591.6v-1.38M399.5,591.6v-4.00M400.0,591.6v-1.56M400.5,591.6v-0.97M403.0,591.6v-4.28M403.5,591.6v-6.55M405.5,591.6v-0.79M406.0,591.6v-1.87" stroke="#2aa52a" stroke-width="0.72" fill="none"/>
<path d="M301.0,586.9v-1.66M302.0,584.5v-2.48M302.5,584.6v-2.45M303.0,586.2v-1.87M304.0,587.6v-1.40M332.5,587.3v-1.50M344.5,586.9v-1.66M348.5,586.9v-1.66M371.0,586.9v-1.66M372.0,585.9v-2.01M372.5,583.0v-3.00M373.0,587.4v-1.48M373.5,586.3v-1.85M374.0,585.4v-2.15M374.5,586.6v-1.74M375.0,586.1v-1.94M376.5,586.9v-1.66M385.0,584.1v-2.62M387.0,587.6v-1.40M389.0,586.6v-1.75M391.0,585.6v-2.10M392.5,584.5v-2.49M393.0,581.6v-3.50M393.5,586.7v-1.72M399.5,587.6v-1.40M403.0,587.3v-1.50M403.5,585.1v-2.29" stroke="#2aa52a" stroke-width="0.55" fill="none" opacity="0.3"/>
<text x="277.3" y="594.9" font-size="2.9" fill="#111">[0-200.00]</text>
<line x1="277.0" y1="608.3" x2="407.1" y2="608.3" stroke="#c8c8c8" stroke-width="0.4"/>
<path d="M277.5,608.3v-0.74M278.0,608.3v-0.82M278.5,608.3v-0.54M281.5,608.3v-0.98M283.5,608.3v-0.51M284.0,608.3v-0.89M285.5,608.3v-0.84M287.0,608.3v-0.53M288.5,608.3v-1.69M289.0,608.3v-2.34M290.0,608.3v-0.90M290.5,608.3v-0.65M293.0,608.3v-0.93M295.0,608.3v-0.44M295.5,608.3v-0.64M296.5,608.3v-0.88M297.0,608.3v-1.40M299.0,608.3v-0.41M299.5,608.3v-2.05M300.0,608.3v-3.00M300.5,608.3v-3.95M301.0,608.3v-6.65M301.5,608.3v-5.28M302.0,608.3v-6.22M302.5,608.3v-10.83M303.0,608.3v-4.29M303.5,608.3v-2.87M304.0,608.3v-5.00M304.5,608.3v-2.12M306.0,608.3v-0.43M308.5,608.3v-0.51M310.0,608.3v-0.56M310.5,608.3v-0.57M311.0,608.3v-0.55M312.0,608.3v-0.32M314.0,608.3v-0.51M315.5,608.3v-1.33M316.0,608.3v-3.00M316.5,608.3v-2.03M319.5,608.3v-0.61M320.5,608.3v-0.33M322.5,608.3v-1.18M323.0,608.3v-1.87M324.5,608.3v-0.95M325.0,608.3v-1.87M326.5,608.3v-1.06M327.0,608.3v-1.20M328.5,608.3v-2.03M329.0,608.3v-3.00M329.5,608.3v-2.02M330.0,608.3v-2.84M330.5,608.3v-4.75M331.0,608.3v-4.11M331.5,608.3v-7.12M332.0,608.3v-4.44M332.5,608.3v-3.48M333.0,608.3v-4.75M333.5,608.3v-2.58M334.5,608.3v-1.07M335.0,608.3v-3.00M335.5,608.3v-1.82M337.0,608.3v-0.63M342.0,608.3v-0.67M343.0,608.3v-2.15M343.5,608.3v-3.74M344.0,608.3v-4.85M344.5,608.3v-9.00M345.0,608.3v-5.04M345.5,608.3v-1.69M346.0,608.3v-4.00M346.5,608.3v-1.61M348.0,608.3v-2.46M348.5,608.3v-7.00M349.0,608.3v-4.43M349.5,608.3v-2.05M350.0,608.3v-3.00M350.5,608.3v-1.80M351.0,608.3v-0.75M351.5,608.3v-0.74M352.0,608.3v-2.00M352.5,608.3v-1.42M353.5,608.3v-1.90M354.0,608.3v-2.85M354.5,608.3v-1.75M355.5,608.3v-1.26M356.0,608.3v-3.80M356.5,608.3v-2.93M357.5,608.3v-2.77M358.0,608.3v-4.75M358.5,608.3v-3.17M359.5,608.3v-1.45M360.0,608.3v-4.27M360.5,608.3v-3.07M361.5,608.3v-1.64M362.0,608.3v-4.75M362.5,608.3v-2.85M364.0,608.3v-2.09M364.5,608.3v-5.50M365.0,608.3v-2.56M366.5,608.3v-1.40M367.0,608.3v-1.87M369.0,608.3v-2.48M369.5,608.3v-4.00M370.0,608.3v-2.58M370.5,608.3v-3.44M371.0,608.3v-7.60M371.5,608.3v-4.25M372.0,608.3v-7.21M372.5,608.3v-5.63M373.0,608.3v-8.51M373.5,608.3v-9.64M374.0,608.3v-8.11M374.5,608.3v-5.64M375.0,608.3v-5.92M376.0,608.3v-3.71M376.5,608.3v-5.70M377.0,608.3v-4.02M378.0,608.3v-1.49M378.5,608.3v-3.00M379.0,608.3v-1.18M379.5,608.3v-0.76M380.0,608.3v-1.29M380.5,608.3v-3.80M381.0,608.3v-3.00M382.0,608.3v-4.04M382.5,608.3v-5.70M383.0,608.3v-2.89M384.0,608.3v-3.03M384.5,608.3v-4.75M385.0,608.3v-2.70M385.5,608.3v-1.00M386.0,608.3v-4.57M386.5,608.3v-8.00M387.0,608.3v-5.25M388.0,608.3v-2.70M388.5,608.3v-6.00M389.0,608.3v-3.41M389.5,608.3v-0.55M390.0,608.3v-2.97M390.5,608.3v-7.00M391.0,608.3v-3.68M392.0,608.3v-1.63M392.5,608.3v-4.75M393.0,608.3v-2.38M393.5,608.3v-0.57M394.5,608.3v-0.85M395.0,608.3v-1.90M395.5,608.3v-1.52M397.0,608.3v-1.10M397.5,608.3v-2.85M398.0,608.3v-2.08M399.5,608.3v-0.94M400.0,608.3v-2.37M400.5,608.3v-1.98M402.0,608.3v-0.78M402.5,608.3v-2.00M403.0,608.3v-0.72M404.0,608.3v-1.22M404.5,608.3v-3.00M405.0,608.3v-2.08M406.0,608.3v-1.22M406.5,608.3v-1.87" stroke="#dc1c1c" stroke-width="0.72" fill="none"/>
<path d="M301.0,601.7v-2.33M301.5,603.0v-1.85M302.0,602.1v-2.18M302.5,597.5v-3.79M303.0,604.0v-1.50M304.0,603.3v-1.75M330.5,603.5v-1.66M331.0,604.2v-1.44M331.5,601.2v-2.49M332.0,603.9v-1.55M333.0,603.5v-1.66M344.0,603.4v-1.70M344.5,599.3v-3.15M345.0,603.3v-1.76M346.0,604.3v-1.40M348.5,601.3v-2.45M349.0,603.9v-1.55M358.0,603.5v-1.66M360.0,604.0v-1.50M362.0,603.5v-1.66M364.5,602.8v-1.92M369.5,604.3v-1.40M371.0,600.7v-2.66M371.5,604.1v-1.49M372.0,601.1v-2.52M372.5,602.7v-1.97M373.0,599.8v-2.98M373.5,598.7v-3.37M374.0,600.2v-2.84M374.5,602.7v-1.97M375.0,602.4v-2.07M376.5,602.6v-1.99M377.0,604.3v-1.41M382.0,604.3v-1.41M382.5,602.6v-1.99M384.5,603.5v-1.66M386.0,603.7v-1.60M386.5,600.3v-2.80M387.0,603.0v-1.84M388.5,602.3v-2.10M390.5,601.3v-2.45M392.5,603.5v-1.66" stroke="#dc1c1c" stroke-width="0.55" fill="none" opacity="0.3"/>
<text x="277.3" y="611.7" font-size="2.9" fill="#111">[0-200.00]</text>
<line x1="277.0" y1="625.1" x2="407.1" y2="625.1" stroke="#c8c8c8" stroke-width="0.4"/>
<path d="M278.5,625.1v-0.90M280.5,625.1v-0.64M281.0,625.1v-0.49M283.5,625.1v-0.40M284.5,625.1v-0.43M285.0,625.1v-0.61M288.5,625.1v-1.01M289.0,625.1v-1.50M289.5,625.1v-0.70M297.0,625.1v-1.01M297.5,625.1v-1.87M298.0,625.1v-0.51M298.5,625.1v-0.62M299.0,625.1v-0.67M299.5,625.1v-1.90M300.0,625.1v-3.80M300.5,625.1v-2.93M301.0,625.1v-2.54M301.5,625.1v-6.65M302.0,625.1v-5.19M302.5,625.1v-6.81M303.0,625.1v-7.43M303.5,625.1v-4.70M304.0,625.1v-3.08M304.5,625.1v-5.00M305.0,625.1v-2.17M306.0,625.1v-0.55M306.5,625.1v-1.42M307.0,625.1v-0.78M310.0,625.1v-0.45M311.0,625.1v-0.60M311.5,625.1v-1.11M312.0,625.1v-1.05M312.5,625.1v-0.87M314.0,625.1v-1.33M314.5,625.1v-1.54M315.0,625.1v-1.63M315.5,625.1v-1.40M317.5,625.1v-1.04M318.0,625.1v-1.50M318.5,625.1v-0.92M321.5,625.1v-0.56M323.0,625.1v-0.75M323.5,625.1v-0.93M328.0,625.1v-1.29M328.5,625.1v-1.87M330.0,625.1v-2.16M330.5,625.1v-3.32M331.0,625.1v-3.64M331.5,625.1v-5.90M332.0,625.1v-3.47M333.0,625.1v-1.27M333.5,625.1v-3.00M334.0,625.1v-1.71M335.0,625.1v-0.82M335.5,625.1v-1.87M339.0,625.1v-0.63M343.0,625.1v-0.84M344.0,625.1v-3.48M344.5,625.1v-6.00M345.0,625.1v-2.36M345.5,625.1v-0.77M346.0,625.1v-0.99M346.5,625.1v-3.00M347.0,625.1v-2.10M348.0,625.1v-2.34M348.5,625.1v-3.50M349.0,625.1v-1.55M350.5,625.1v-0.85M351.0,625.1v-2.50M351.5,625.1v-1.62M356.0,625.1v-2.20M356.5,625.1v-3.50M357.0,625.1v-1.35M357.5,625.1v-0.54M358.5,625.1v-1.57M359.0,625.1v-2.37M359.5,625.1v-1.82M360.5,625.1v-0.70M361.0,625.1v-1.61M361.5,625.1v-2.85M362.0,625.1v-1.44M362.5,625.1v-0.57M364.0,625.1v-0.86M364.5,625.1v-2.50M365.0,625.1v-0.87M366.5,625.1v-0.77M367.0,625.1v-1.40M370.5,625.1v-2.96M371.0,625.1v-4.75M371.5,625.1v-3.20M372.0,625.1v-3.59M372.5,625.1v-7.25M373.0,625.1v-4.14M373.5,625.1v-5.23M374.0,625.1v-2.67M374.5,625.1v-6.65M375.0,625.1v-2.54M375.5,625.1v-1.60M376.0,625.1v-4.00M376.5,625.1v-2.55M378.5,625.1v-0.82M379.0,625.1v-2.00M379.5,625.1v-0.66M381.0,625.1v-1.50M381.5,625.1v-2.85M382.0,625.1v-1.54M383.5,625.1v-2.41M384.0,625.1v-4.27M384.5,625.1v-2.76M385.5,625.1v-3.53M386.0,625.1v-5.70M386.5,625.1v-4.58M387.0,625.1v-0.65M387.5,625.1v-1.78M388.0,625.1v-3.80M388.5,625.1v-2.56M390.0,625.1v-1.11M390.5,625.1v-3.00M391.0,625.1v-1.27M392.0,625.1v-3.90M392.5,625.1v-10.80M393.0,625.1v-7.17M393.5,625.1v-1.42M394.0,625.1v-2.81M396.5,625.1v-1.25M397.0,625.1v-1.87M398.5,625.1v-1.68M399.0,625.1v-2.50M399.5,625.1v-1.19M401.0,625.1v-1.26M401.5,625.1v-2.81M404.0,625.1v-1.74M404.5,625.1v-3.74" stroke="#1e1e96" stroke-width="0.72" fill="none"/>
<path d="M301.5,618.5v-2.33M302.0,619.9v-1.82M302.5,618.3v-2.38M303.0,617.7v-2.60M303.5,620.4v-1.65M304.5,620.1v-1.75M331.5,619.2v-2.06M344.5,619.1v-2.10M371.0,620.4v-1.66M372.5,617.8v-2.54M373.0,621.0v-1.45M373.5,619.9v-1.83M374.5,618.5v-2.33M376.0,621.1v-1.40M384.0,620.8v-1.50M386.0,619.4v-1.99M386.5,620.5v-1.60M392.5,614.3v-3.78M393.0,617.9v-2.51" stroke="#1e1e96" stroke-width="0.55" fill="none" opacity="0.3"/>
<line x1="277" y1="627.4" x2="341" y2="627.4" stroke="#cc44cc" stroke-width="0.5"/>
<path d="M279.0,626.6999999999999l0.7,0.7l-0.7,0.7" stroke="#cc44cc" stroke-width="0.35" fill="none"/>
<path d="M283.0,626.6999999999999l0.7,0.7l-0.7,0.7" stroke="#cc44cc" stroke-width="0.35" fill="none"/>
<path d="M287.0,626.6999999999999l0.7,0.7l-0.7,0.7" stroke="#cc44cc" stroke-width="0.35" fill="none"/>
<path d="M291.0,626.6999999999999l0.7,0.7l-0.7,0.7" stroke="#cc44cc" stroke-width="0.35" fill="none"/>
<path d="M295.0,626.6999999999999l0.7,0.7l-0.7,0.7" stroke="#cc44cc" stroke-width="0.35" fill="none"/>
<path d="M299.0,626.6999999999999l0.7,0.7l-0.7,0.7" stroke="#cc44cc" stroke-width="0.35" fill="none"/>
<path d="M303.0,626.6999999999999l0.7,0.7l-0.7,0.7" stroke="#cc44cc" stroke-width="0.35" fill="none"/>
<path d="M307.0,626.6999999999999l0.7,0.7l-0.7,0.7" stroke="#cc44cc" stroke-width="0.35" fill="none"/>
<path d="M311.0,626.6999999999999l0.7,0.7l-0.7,0.7" stroke="#cc44cc" stroke-width="0.35" fill="none"/>
<path d="M315.0,626.6999999999999l0.7,0.7l-0.7,0.7" stroke="#cc44cc" stroke-width="0.35" fill="none"/>
<path d="M319.0,626.6999999999999l0.7,0.7l-0.7,0.7" stroke="#cc44cc" stroke-width="0.35" fill="none"/>
<path d="M323.0,626.6999999999999l0.7,0.7l-0.7,0.7" stroke="#cc44cc" stroke-width="0.35" fill="none"/>
<path d="M327.0,626.6999999999999l0.7,0.7l-0.7,0.7" stroke="#cc44cc" stroke-width="0.35" fill="none"/>
<path d="M331.0,626.6999999999999l0.7,0.7l-0.7,0.7" stroke="#cc44cc" stroke-width="0.35" fill="none"/>
<path d="M335.0,626.6999999999999l0.7,0.7l-0.7,0.7" stroke="#cc44cc" stroke-width="0.35" fill="none"/>
<path d="M339.0,626.6999999999999l0.7,0.7l-0.7,0.7" stroke="#cc44cc" stroke-width="0.35" fill="none"/>
<rect x="278" y="626.1999999999999" width="2.0" height="2.4" fill="#cc44cc"/>
<rect x="284" y="626.1999999999999" width="2.0" height="2.4" fill="#cc44cc"/>
<rect x="289" y="626.1999999999999" width="1.0" height="2.4" fill="#cc44cc"/>
<rect x="291.5" y="626.1999999999999" width="1.5" height="2.4" fill="#cc44cc"/>
<rect x="294" y="626.1999999999999" width="2.0" height="2.4" fill="#cc44cc"/>
<rect x="297" y="626.1999999999999" width="1.0" height="2.4" fill="#cc44cc"/>
<rect x="300" y="626.1999999999999" width="1.0" height="2.4" fill="#cc44cc"/>
<rect x="303" y="626.1999999999999" width="1.0" height="2.4" fill="#cc44cc"/>
<rect x="306" y="626.1999999999999" width="1.0" height="2.4" fill="#cc44cc"/>
<rect x="309" y="626.1999999999999" width="1.0" height="2.4" fill="#cc44cc"/>
<line x1="387" y1="627.4" x2="394" y2="627.4" stroke="#cc44cc" stroke-width="0.5"/>
<path d="M389.0,626.6999999999999l0.7,0.7l-0.7,0.7" stroke="#cc44cc" stroke-width="0.35" fill="none"/>
<rect x="387" y="626.1999999999999" width="1.0" height="2.4" fill="#cc44cc"/>
<rect x="390" y="626.1999999999999" width="1.0" height="2.4" fill="#cc44cc"/>
<rect x="392.5" y="626.1999999999999" width="1.5" height="2.4" fill="#cc44cc"/>
<line x1="397.8" y1="627.4" x2="399.7" y2="627.4" stroke="#cc44cc" stroke-width="0.5"/>
<rect x="397.8" y="626.1999999999999" width="1.9" height="2.4" fill="#cc44cc"/>
<text x="311.1" y="635.6" font-size="3.7" fill="#444" text-anchor="middle">MYH10</text>
<text x="390.4" y="635.6" font-size="3.7" fill="#444" text-anchor="middle">CCDC42</text>
<rect x="327.3" y="577.6" width="10.0" height="49.3" fill="none" stroke="#f7b548" stroke-width="0.7" stroke-dasharray="1.1,1.1"/>
<rect x="341.4" y="577.6" width="10.4" height="49.3" fill="none" stroke="#f7b548" stroke-width="0.7" stroke-dasharray="1.1,1.1"/>
<rect x="367.9" y="577.6" width="10.1" height="49.3" fill="none" stroke="#f7b548" stroke-width="0.7" stroke-dasharray="1.1,1.1"/>
</svg></body></html>
